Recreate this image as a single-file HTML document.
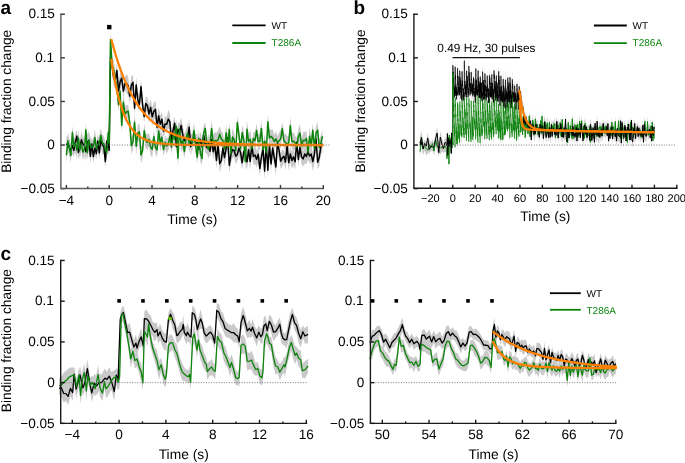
<!DOCTYPE html>
<html><head><meta charset="utf-8"><style>
html,body{margin:0;padding:0;background:#fff;overflow:hidden;}
svg{display:block;} #w{will-change:transform;}
</style></head><body><div id="w">
<svg width="685" height="463" viewBox="0 0 685 463" font-family='"Liberation Sans", sans-serif' text-rendering="geometricPrecision">
<rect width="685" height="463" fill="#fff"/>
<polygon points="66.38,136.32 67.88,136.25 69.38,138.54 70.88,143.41 72.37,136.63 73.87,144.06 75.37,133.85 76.87,129.9 78.37,145.3 79.87,140.57 81.37,131.2 82.87,136.43 84.36,139.12 85.86,142.13 87.36,133.2 88.86,130.93 90.36,149.36 91.86,136.57 93.36,149.68 94.86,141.46 96.35,147.41 97.85,133.15 99.35,146.42 100.85,132.61 102.35,135.71 103.85,139.01 105.35,154.85 106.84,132.57 108.34,137.75 109.2,142.34 110.48,50.76 112.09,56.92 113.7,69.68 115.3,72.54 116.91,62.93 118.51,82.07 120.12,72.63 121.72,71.38 123.33,84.51 124.94,77.07 126.54,74.17 128.15,76.25 129.75,89.19 131.36,75.64 132.97,75.44 134.57,100.27 136.18,77.22 137.78,90.34 139.39,98.48 140.99,79.4 142.6,97.03 144.21,110.11 145.81,96.51 147.42,97.86 149.02,104.82 150.63,98.63 152.23,107.82 153.84,102.44 155.45,100.83 157.05,118.17 158.66,107.4 160.26,115.52 161.87,112.07 163.47,124.37 165.08,115.25 166.69,117.65 168.29,109.82 169.9,113.68 171.5,133.22 173.11,121.02 174.71,116.62 176.32,138.79 177.93,122.85 179.53,123.06 181.14,117.39 182.74,125.66 184.35,133.67 185.95,129.68 187.56,129.74 189.17,118.9 190.77,137.19 192.38,132.83 193.98,129.46 195.59,134.38 197.2,133.6 198.8,142 200.41,131.19 202.01,139.76 203.62,126.95 205.22,135.26 206.83,141.44 208.44,133.04 210.04,145.2 211.65,130.06 213.25,143.92 214.86,137.58 216.46,151.74 218.07,136.25 219.68,155.08 221.28,154.16 222.89,139.93 224.49,149.45 226.1,139.24 227.7,131.61 229.31,157.62 230.92,146.33 232.52,141.76 234.13,144.16 235.73,147.94 237.34,147.55 238.94,141.53 240.55,143.32 242.16,155.86 243.76,143.88 245.37,145.15 246.97,153.22 248.58,141.62 250.18,152.45 251.79,137.86 253.4,148.31 255,146.02 256.61,150.91 258.21,145.83 259.82,160.97 261.43,148.88 263.03,142.02 264.64,162.41 266.24,135.91 267.85,162.44 269.45,136.56 271.06,156.08 272.67,140.79 274.27,148.55 275.88,159.56 277.48,133.97 279.09,141.48 280.69,153.56 282.3,149.27 283.91,150.06 285.51,154.55 287.12,136.15 288.72,154.48 290.33,146.02 291.93,152.04 293.54,148.42 295.15,153.53 296.75,134.7 298.36,152.72 299.96,140.24 301.57,149.98 303.17,151.23 304.78,144.42 306.39,149.23 307.99,144.15 309.6,148.6 311.2,146.02 312.81,152.14 314.41,144.99 316.02,131.63 317.63,155.2 319.23,148.37 320.84,138.93 322.44,135.08 322.44,152.07 320.84,154.58 319.23,166.74 317.63,169.27 316.02,146.47 314.41,163.4 312.81,170.96 311.2,162.28 309.6,163.4 307.99,159.48 306.39,163.89 304.78,163.6 303.17,166.45 301.57,164.23 299.96,154.49 298.36,166.21 296.75,149.84 295.15,169.81 293.54,165.35 291.93,168.88 290.33,162.12 288.72,170.73 287.12,154.36 285.51,169.48 283.91,162.51 282.3,166.45 280.69,168.89 279.09,159.17 277.48,152.07 275.88,174.42 274.27,166.53 272.67,155.36 271.06,171.8 269.45,154.03 267.85,177.9 266.24,150.77 264.64,179.81 263.03,156.99 261.43,164.98 259.82,176.01 258.21,162.52 256.61,167.85 255,163.95 253.4,164.85 251.79,153.32 250.18,170.29 248.58,157.69 246.97,170.36 245.37,162.59 243.76,159.26 242.16,169.45 240.55,161.66 238.94,155.1 237.34,161.3 235.73,164.29 234.13,156.89 232.52,157.81 230.92,162.94 229.31,172.99 227.7,144.1 226.1,157.95 224.49,165.55 222.89,156.06 221.28,166.96 219.68,172.39 218.07,152.11 216.46,168.98 214.86,152.64 213.25,159.39 211.65,148.95 210.04,157.52 208.44,150.33 206.83,154.1 205.22,152.83 203.62,143 202.01,153.43 200.41,148.07 198.8,156.55 197.2,151.64 195.59,151.41 193.98,144.57 192.38,148.06 190.77,156.03 189.17,135.6 187.56,146.85 185.95,147.48 184.35,147.84 182.74,143.47 181.14,133.61 179.53,142 177.93,135.7 176.32,154.59 174.71,129.91 173.11,139.76 171.5,147.73 169.9,130.05 168.29,128.44 166.69,131.02 165.08,132.74 163.47,137.75 161.87,126.38 160.26,132.86 158.66,124.36 157.05,136.3 155.45,117.98 153.84,119.96 152.23,125.81 150.63,116.15 149.02,123.17 147.42,113.31 145.81,110.37 144.21,122.78 142.6,113.42 140.99,93.81 139.39,110.97 137.78,108.93 136.18,92.89 134.57,116.01 132.97,89.1 131.36,94.62 129.75,103 128.15,95.03 126.54,93.21 124.94,90.07 123.33,97.66 121.72,84.84 120.12,90.94 118.51,99.8 116.91,77.9 115.3,88.49 113.7,86.28 112.09,72.73 110.48,64.94 109.2,158.22 108.34,151.81 106.84,149.45 105.35,168.34 103.85,154.59 102.35,153.92 100.85,146.04 99.35,159.48 97.85,148.87 96.35,159.85 94.86,154.54 93.36,163.48 91.86,151.53 90.36,163.28 88.86,149.53 87.36,151.6 85.86,161.28 84.36,151.73 82.87,151.81 81.37,148.43 79.87,154.96 78.37,159.7 76.87,142.34 75.37,149.36 73.87,156.74 72.37,154.2 70.88,157.13 69.38,157.12 67.88,149.79 66.38,153.76" fill="#c9c9c9" fill-opacity="1.0" stroke="none"/>
<polygon points="66.38,148.98 67.88,131.63 69.38,141.11 70.88,147.68 72.37,125.66 73.87,139.33 75.37,134.56 76.87,141.21 78.37,130.33 79.87,141.1 81.37,135.71 82.87,144.78 84.36,141.67 85.86,122.92 87.36,145.47 88.86,131.62 90.36,136.65 91.86,141.14 93.36,137.89 94.86,128.63 96.35,141.01 97.85,137.98 99.35,135 100.85,128.26 102.35,134.67 103.85,136.17 105.35,141.5 106.84,145.83 108.34,124.18 109.2,135.37 110.48,31.23 112.09,58.01 113.7,60.37 115.3,72.28 116.91,80.45 118.51,97.78 120.12,84.84 121.72,117.88 123.33,93.51 124.94,105.46 126.54,105.23 128.15,104.59 129.75,116.01 131.36,136.84 132.97,134.21 134.57,112.9 136.18,137.85 137.78,125.26 139.39,122.98 140.99,146.35 142.6,143.13 144.21,123.78 145.81,133.11 147.42,134.54 149.02,132.7 150.63,139.67 152.23,141 153.84,130.16 155.45,140.97 157.05,143.21 158.66,124.01 160.26,133.41 161.87,131.11 163.47,142.88 165.08,135.58 166.69,138.25 168.29,137.8 169.9,128.34 171.5,140.6 173.11,128.1 174.71,130.33 176.32,119.45 177.93,149.98 179.53,121.41 181.14,136.73 182.74,131.38 184.35,144.94 185.95,129.72 187.56,124 189.17,135.27 190.77,133.31 192.38,134.58 193.98,122.41 195.59,135.82 197.2,150.42 198.8,128.73 200.41,143.97 202.01,152.08 203.62,126.06 205.22,122.14 206.83,135.65 208.44,140.27 210.04,134.01 211.65,120.22 213.25,134.65 214.86,132.08 216.46,132.85 218.07,130.45 219.68,126.07 221.28,131.6 222.89,132.69 224.49,142.9 226.1,124.16 227.7,138.8 229.31,121.97 230.92,144.75 232.52,128.21 234.13,132.57 235.73,144.03 237.34,115.9 238.94,128.24 240.55,141.68 242.16,125.04 243.76,130.64 245.37,154.5 246.97,120.02 248.58,133.06 250.18,130.26 251.79,141.22 253.4,132.41 255,131.75 256.61,123.46 258.21,135.08 259.82,132.45 261.43,119.88 263.03,142.82 264.64,134.15 266.24,143.32 267.85,114.75 269.45,129.56 271.06,129.82 272.67,129.16 274.27,135.02 275.88,130.88 277.48,136.5 279.09,132.71 280.69,129.86 282.3,122.21 283.91,133.91 285.51,133.61 287.12,136.02 288.72,135.67 290.33,117.2 291.93,133.93 293.54,132.09 295.15,135.73 296.75,138.52 298.36,128.31 299.96,124.32 301.57,138.53 303.17,131.68 304.78,132.28 306.39,130.84 307.99,146.3 309.6,126.73 311.2,137.03 312.81,123.31 314.41,140.18 316.02,125.69 317.63,122.4 319.23,138.41 320.84,135.7 322.44,129.17 322.44,143.38 320.84,151.03 319.23,156.61 317.63,137.88 316.02,139.84 314.41,157.48 312.81,136.95 311.2,154.22 309.6,145.66 307.99,158.69 306.39,145.76 304.78,149.36 303.17,148.94 301.57,153.38 299.96,141.69 298.36,144.95 296.75,156.02 295.15,149.98 293.54,150.31 291.93,149.31 290.33,133.79 288.72,150.06 287.12,152.47 285.51,151.15 283.91,148.04 282.3,135.01 280.69,147.97 279.09,148.76 277.48,148.96 275.88,146.69 274.27,148.05 272.67,147.06 271.06,142.93 269.45,146.66 267.85,128.83 266.24,162.08 264.64,148.22 263.03,156.51 261.43,136.88 259.82,150.23 258.21,148.29 256.61,137.39 255,149.45 253.4,144.64 251.79,156.24 250.18,148.42 248.58,150.01 246.97,138.5 245.37,168.65 243.76,149.32 242.16,140.37 240.55,156 238.94,141.73 237.34,129.03 235.73,156.78 234.13,147.13 232.52,145.69 230.92,162.89 229.31,137.11 227.7,155.84 226.1,141.42 224.49,155.24 222.89,148.47 221.28,146.15 219.68,142.52 218.07,149.3 216.46,149.03 214.86,149.02 213.25,151.5 211.65,136.7 210.04,153.12 208.44,158.86 206.83,153.66 205.22,134.57 203.62,140.47 202.01,165.09 200.41,162.36 198.8,147.59 197.2,164.12 195.59,153.42 193.98,138.81 192.38,151.41 190.77,145.86 189.17,152.14 187.56,142.44 185.95,148.37 184.35,158.27 182.74,149.29 181.14,151.86 179.53,136.45 177.93,166.5 176.32,132.95 174.71,148.06 173.11,142.19 171.5,153.95 169.9,143.74 168.29,150.12 166.69,153.77 165.08,148.94 163.47,156.37 161.87,143.5 160.26,152.32 158.66,138.19 157.05,156.63 155.45,154.14 153.84,143.31 152.23,157.67 150.63,154.96 149.02,145.9 147.42,150.16 145.81,148.37 144.21,137.78 142.6,157.74 140.99,163.79 139.39,140.54 137.78,141.8 136.18,154.64 134.57,131.55 132.97,149.83 131.36,154.41 129.75,130.46 128.15,117.75 126.54,118.8 124.94,122.62 123.33,111.1 121.72,133.03 120.12,97.52 118.51,111.78 116.91,94.79 115.3,86.51 113.7,79.29 112.09,71.64 110.48,47.84 109.2,151.24 108.34,139.71 106.84,159.84 105.35,158.15 103.85,151.01 102.35,151.37 100.85,142.19 99.35,151.97 97.85,150.62 96.35,156.33 94.86,146.54 93.36,155.21 91.86,153.75 90.36,154.24 88.86,148.76 87.36,159.89 85.86,136.54 84.36,157.69 82.87,159.6 81.37,151.11 79.87,158.67 78.37,145.85 76.87,159.19 75.37,152.54 73.87,154.47 72.37,139.25 70.88,163.34 69.38,155.5 67.88,149.88 66.38,161.7" fill="#c9c9c9" fill-opacity="1.0" stroke="none"/>
<polyline points="66.38,145.04 67.88,143.02 69.38,147.83 70.88,150.27 72.37,145.42 73.87,150.4 75.37,141.61 76.87,136.12 78.37,152.5 79.87,147.76 81.37,139.82 82.87,144.12 84.36,145.43 85.86,151.7 87.36,142.4 88.86,140.23 90.36,156.32 91.86,144.05 93.36,156.58 94.86,148 96.35,153.63 97.85,141.01 99.35,152.95 100.85,139.33 102.35,144.81 103.85,146.8 105.35,161.6 106.84,141.01 108.34,144.78 109.2,150.28 110.48,57.85 112.09,64.83 113.7,77.98 115.3,80.52 116.91,70.41 118.51,90.94 120.12,81.78 121.72,78.11 123.33,91.08 124.94,83.57 126.54,83.69 128.15,85.64 129.75,96.1 131.36,85.13 132.97,82.27 134.57,108.14 136.18,85.06 137.78,99.64 139.39,104.73 140.99,86.61 142.6,105.23 144.21,116.44 145.81,103.44 147.42,105.59 149.02,114 150.63,107.39 152.23,116.82 153.84,111.2 155.45,109.4 157.05,127.23 158.66,115.88 160.26,124.19 161.87,119.22 163.47,131.06 165.08,123.99 166.69,124.34 168.29,119.13 169.9,121.87 171.5,140.48 173.11,130.39 174.71,123.26 176.32,146.69 177.93,129.27 179.53,132.53 181.14,125.5 182.74,134.57 184.35,140.75 185.95,138.58 187.56,138.3 189.17,127.25 190.77,146.61 192.38,140.44 193.98,137.01 195.59,142.9 197.2,142.62 198.8,149.28 200.41,139.63 202.01,146.59 203.62,134.98 205.22,144.05 206.83,147.77 208.44,141.69 210.04,151.36 211.65,139.5 213.25,151.66 214.86,145.11 216.46,160.36 218.07,144.18 219.68,163.73 221.28,160.56 222.89,147.99 224.49,157.5 226.1,148.6 227.7,137.86 229.31,165.31 230.92,154.63 232.52,149.79 234.13,150.53 235.73,156.12 237.34,154.42 238.94,148.31 240.55,152.49 242.16,162.66 243.76,151.57 245.37,153.87 246.97,161.79 248.58,149.66 250.18,161.37 251.79,145.59 253.4,156.58 255,154.98 256.61,159.38 258.21,154.17 259.82,168.49 261.43,156.93 263.03,149.51 264.64,171.11 266.24,143.34 267.85,170.17 269.45,145.3 271.06,163.94 272.67,148.08 274.27,157.54 275.88,166.99 277.48,143.02 279.09,150.33 280.69,161.22 282.3,157.86 283.91,156.29 285.51,162.02 287.12,145.25 288.72,162.6 290.33,154.07 291.93,160.46 293.54,156.89 295.15,161.67 296.75,142.27 298.36,159.46 299.96,147.36 301.57,157.1 303.17,158.84 304.78,154.01 306.39,156.56 307.99,151.82 309.6,156 311.2,154.15 312.81,161.55 314.41,154.2 316.02,139.05 317.63,162.23 319.23,157.56 320.84,146.76 322.44,143.57" fill="none" stroke="#000" stroke-width="1.5" stroke-linejoin="round" />
<polyline points="66.38,155.34 67.88,140.76 69.38,148.31 70.88,155.51 72.37,132.46 73.87,146.9 75.37,143.55 76.87,150.2 78.37,138.09 79.87,149.89 81.37,143.41 82.87,152.19 84.36,149.68 85.86,129.73 87.36,152.68 88.86,140.19 90.36,145.44 91.86,147.45 93.36,146.55 94.86,137.59 96.35,148.67 97.85,144.3 99.35,143.48 100.85,135.23 102.35,143.02 103.85,143.59 105.35,149.82 106.84,152.84 108.34,131.95 109.2,143.31 110.48,39.54 112.09,64.83 113.7,69.83 115.3,79.4 116.91,87.62 118.51,104.78 120.12,91.18 121.72,125.46 123.33,102.3 124.94,114.04 126.54,112.02 128.15,111.17 129.75,123.23 131.36,145.62 132.97,142.02 134.57,122.22 136.18,146.24 137.78,133.53 139.39,131.76 140.99,155.07 142.6,150.44 144.21,130.78 145.81,140.74 147.42,142.35 149.02,139.3 150.63,147.31 152.23,149.33 153.84,136.73 155.45,147.55 157.05,149.92 158.66,131.1 160.26,142.87 161.87,137.31 163.47,149.63 165.08,142.26 166.69,146.01 168.29,143.96 169.9,136.04 171.5,147.27 173.11,135.15 174.71,139.2 176.32,126.2 177.93,158.24 179.53,128.93 181.14,144.29 182.74,140.33 184.35,151.6 185.95,139.04 187.56,133.22 189.17,143.7 190.77,139.59 192.38,143 193.98,130.61 195.59,144.62 197.2,157.27 198.8,138.16 200.41,153.16 202.01,158.59 203.62,133.27 205.22,128.36 206.83,144.65 208.44,149.56 210.04,143.56 211.65,128.46 213.25,143.07 214.86,140.55 216.46,140.94 218.07,139.87 219.68,134.3 221.28,138.88 222.89,140.58 224.49,149.07 226.1,132.79 227.7,147.32 229.31,129.54 230.92,153.82 232.52,136.95 234.13,139.85 235.73,150.4 237.34,122.47 238.94,134.99 240.55,148.84 242.16,132.71 243.76,139.98 245.37,161.58 246.97,129.26 248.58,141.53 250.18,139.34 251.79,148.73 253.4,138.52 255,140.6 256.61,130.43 258.21,141.69 259.82,141.34 261.43,128.38 263.03,149.67 264.64,141.19 266.24,152.7 267.85,121.79 269.45,138.11 271.06,136.38 272.67,138.11 274.27,141.53 275.88,138.79 277.48,142.73 279.09,140.74 280.69,138.92 282.3,128.61 283.91,140.97 285.51,142.38 287.12,144.25 288.72,142.87 290.33,125.49 291.93,141.62 293.54,141.2 295.15,142.85 296.75,147.27 298.36,136.63 299.96,133 301.57,145.96 303.17,140.31 304.78,140.82 306.39,138.3 307.99,152.5 309.6,136.19 311.2,145.62 312.81,130.13 314.41,148.83 316.02,132.77 317.63,130.14 319.23,147.51 320.84,143.36 322.44,136.28" fill="none" stroke="#0c840c" stroke-width="1.5" stroke-linejoin="round" />
<polyline points="111.23,38.93 112.3,42.99 113.37,46.9 114.43,50.66 115.5,54.27 116.56,57.75 117.63,61.09 118.69,64.3 119.76,67.39 120.82,70.37 121.89,73.23 122.96,75.98 124.02,78.62 125.09,81.16 126.15,83.61 127.22,85.96 128.28,88.22 129.35,90.4 130.42,92.49 131.48,94.5 132.55,96.44 133.61,98.3 134.68,100.09 135.74,101.81 136.81,103.47 137.88,105.06 138.94,106.59 140.01,108.06 141.07,109.48 142.14,110.84 143.2,112.15 144.27,113.41 145.34,114.62 146.4,115.79 147.47,116.91 148.53,117.98 149.6,119.02 150.66,120.02 151.73,120.98 152.79,121.9 153.86,122.78 154.93,123.64 155.99,124.46 157.06,125.24 158.12,126 159.19,126.73 160.25,127.43 161.32,128.11 162.39,128.76 163.45,129.38 164.52,129.98 165.58,130.56 166.65,131.11 167.71,131.65 168.78,132.16 169.85,132.65 170.91,133.13 171.98,133.58 173.04,134.02 174.11,134.44 175.17,134.85 176.24,135.24 177.3,135.62 178.37,135.98 179.44,136.33 180.5,136.66 181.57,136.98 182.63,137.29 183.7,137.59 184.76,137.87 185.83,138.15 186.9,138.41 187.96,138.67 189.03,138.91 190.09,139.15 191.16,139.37 192.22,139.59 193.29,139.8 194.36,140 195.42,140.19 196.49,140.38 197.55,140.56 198.62,140.73 199.68,140.89 200.75,141.05 201.81,141.21 202.88,141.35 203.95,141.5 205.01,141.63 206.08,141.76 207.14,141.89 208.21,142.01 209.27,142.13 210.34,142.24 211.41,142.35 212.47,142.45 213.54,142.55 214.6,142.64 215.67,142.74 216.73,142.82 217.8,142.91 218.87,142.99 219.93,143.07 221,143.15 222.06,143.22 223.13,143.29 224.19,143.36 225.26,143.42 226.33,143.48 227.39,143.54 228.46,143.6 229.52,143.66 230.59,143.71 231.65,143.76 232.72,143.81 233.78,143.86 234.85,143.9 235.92,143.95 236.98,143.99 238.05,144.03 239.11,144.07 240.18,144.11 241.24,144.14 242.31,144.18 243.38,144.21 244.44,144.24 245.51,144.27 246.57,144.3 247.64,144.33 248.7,144.36 249.77,144.39 250.84,144.41 251.9,144.44 252.97,144.46 254.03,144.48 255.1,144.5 256.16,144.53 257.23,144.55 258.29,144.56 259.36,144.58 260.43,144.6 261.49,144.62 262.56,144.63 263.62,144.65 264.69,144.67 265.75,144.68 266.82,144.69 267.89,144.71 268.95,144.72 270.02,144.73 271.08,144.75 272.15,144.76 273.21,144.77 274.28,144.78 275.35,144.79 276.41,144.8 277.48,144.81 278.54,144.82 279.61,144.83 280.67,144.84 281.74,144.84 282.8,144.85 283.87,144.86 284.94,144.87 286,144.87 287.07,144.88 288.13,144.89 289.2,144.89 290.26,144.9 291.33,144.91 292.4,144.91 293.46,144.92 294.53,144.92 295.59,144.93 296.66,144.93 297.72,144.94 298.79,144.94 299.86,144.94 300.92,144.95 301.99,144.95 303.05,144.96 304.12,144.96 305.18,144.96 306.25,144.97 307.32,144.97 308.38,144.97 309.45,144.98 310.51,144.98 311.58,144.98 312.64,144.98 313.71,144.99 314.77,144.99 315.84,144.99 316.91,144.99 317.97,145 319.04,145 320.1,145 321.17,145 322.23,145 323.3,145.01" fill="none" stroke="#ff8000" stroke-width="2.25" stroke-linejoin="round" />
<polyline points="111.23,58.72 112.3,65.88 113.37,72.45 114.43,78.47 115.5,83.99 116.56,89.05 117.63,93.69 118.69,97.95 119.76,101.86 120.82,105.44 121.89,108.72 122.96,111.74 124.02,114.5 125.09,117.03 126.15,119.36 127.22,121.49 128.28,123.44 129.35,125.23 130.42,126.88 131.48,128.38 132.55,129.76 133.61,131.03 134.68,132.19 135.74,133.26 136.81,134.24 137.88,135.13 138.94,135.96 140.01,136.71 141.07,137.4 142.14,138.04 143.2,138.62 144.27,139.15 145.34,139.64 146.4,140.09 147.47,140.5 148.53,140.88 149.6,141.22 150.66,141.54 151.73,141.83 152.79,142.1 153.86,142.34 154.93,142.57 155.99,142.77 157.06,142.96 158.12,143.14 159.19,143.29 160.25,143.44 161.32,143.57 162.39,143.7 163.45,143.81 164.52,143.91 165.58,144.01 166.65,144.09 167.71,144.17 168.78,144.24 169.85,144.31 170.91,144.37 171.98,144.43 173.04,144.48 174.11,144.53 175.17,144.57 176.24,144.61 177.3,144.65 178.37,144.68 179.44,144.71 180.5,144.74 181.57,144.76 182.63,144.79 183.7,144.81 184.76,144.83 185.83,144.85 186.9,144.87 187.96,144.88 189.03,144.89 190.09,144.91 191.16,144.92 192.22,144.93 193.29,144.94 194.36,144.95 195.42,144.96 196.49,144.97 197.55,144.97 198.62,144.98 199.68,144.98 200.75,144.99 201.81,144.99 202.88,145 203.95,145 205.01,145.01 206.08,145.01 207.14,145.01 208.21,145.02 209.27,145.02 210.34,145.02 211.41,145.02 212.47,145.03 213.54,145.03 214.6,145.03 215.67,145.03 216.73,145.03 217.8,145.03 218.87,145.04 219.93,145.04 221,145.04 222.06,145.04 223.13,145.04 224.19,145.04 225.26,145.04 226.33,145.04 227.39,145.04 228.46,145.04 229.52,145.04 230.59,145.04 231.65,145.05 232.72,145.05 233.78,145.05 234.85,145.05 235.92,145.05 236.98,145.05 238.05,145.05 239.11,145.05 240.18,145.05 241.24,145.05 242.31,145.05 243.38,145.05 244.44,145.05 245.51,145.05 246.57,145.05 247.64,145.05 248.7,145.05 249.77,145.05 250.84,145.05 251.9,145.05 252.97,145.05 254.03,145.05 255.1,145.05 256.16,145.05 257.23,145.05 258.29,145.05 259.36,145.05 260.43,145.05 261.49,145.05 262.56,145.05 263.62,145.05 264.69,145.05 265.75,145.05 266.82,145.05 267.89,145.05 268.95,145.05 270.02,145.05 271.08,145.05 272.15,145.05 273.21,145.05 274.28,145.05 275.35,145.05 276.41,145.05 277.48,145.05 278.54,145.05 279.61,145.05 280.67,145.05 281.74,145.05 282.8,145.05 283.87,145.05 284.94,145.05 286,145.05 287.07,145.05 288.13,145.05 289.2,145.05 290.26,145.05 291.33,145.05 292.4,145.05 293.46,145.05 294.53,145.05 295.59,145.05 296.66,145.05 297.72,145.05 298.79,145.05 299.86,145.05 300.92,145.05 301.99,145.05 303.05,145.05 304.12,145.05 305.18,145.05 306.25,145.05 307.32,145.05 308.38,145.05 309.45,145.05 310.51,145.05 311.58,145.05 312.64,145.05 313.71,145.05 314.77,145.05 315.84,145.05 316.91,145.05 317.97,145.05 319.04,145.05 320.1,145.05 321.17,145.05 322.23,145.05 323.3,145.05" fill="none" stroke="#ff8000" stroke-width="2.25" stroke-linejoin="round" />
<line x1="60.7" y1="145.05" x2="331" y2="145.05" stroke="#6a6a6a" stroke-width="0.9" stroke-dasharray="1 1.55"/>
<line x1="60.9" y1="13.55" x2="60.9" y2="188.5" stroke="#5c5c5c" stroke-width="1.4" />
<line x1="60.9" y1="14.25" x2="64.9" y2="14.25" stroke="#383838" stroke-width="1.4" />
<text x="54.9" y="18.45" font-size="13.6" text-anchor="end" font-weight="normal" fill="#000" >0.15</text>
<line x1="60.9" y1="57.85" x2="64.9" y2="57.85" stroke="#383838" stroke-width="1.4" />
<text x="54.1" y="62.05" font-size="13.6" text-anchor="end" font-weight="normal" fill="#000" >0.1</text>
<line x1="60.9" y1="101.45" x2="64.9" y2="101.45" stroke="#383838" stroke-width="1.4" />
<text x="54.9" y="105.65" font-size="13.6" text-anchor="end" font-weight="normal" fill="#000" >0.05</text>
<line x1="60.9" y1="145.05" x2="64.9" y2="145.05" stroke="#383838" stroke-width="1.4" />
<text x="54.9" y="149.25" font-size="13.6" text-anchor="end" font-weight="normal" fill="#000" >0</text>
<line x1="60.9" y1="188.65" x2="64.9" y2="188.65" stroke="#383838" stroke-width="1.4" />
<text x="54.9" y="192.85" font-size="13.6" text-anchor="end" font-weight="normal" fill="#000" >−0.05</text>
<line x1="60.2" y1="188.5" x2="324.1" y2="188.5" stroke="#5c5c5c" stroke-width="1.4" />
<line x1="66.38" y1="188.5" x2="66.38" y2="184.9" stroke="#383838" stroke-width="1.4" />
<text x="66.38" y="204.9" font-size="13.6" text-anchor="middle" font-weight="normal" fill="#000" >−4</text>
<line x1="109.2" y1="188.5" x2="109.2" y2="184.9" stroke="#383838" stroke-width="1.4" />
<text x="109.2" y="204.9" font-size="13.6" text-anchor="middle" font-weight="normal" fill="#000" >0</text>
<line x1="152.02" y1="188.5" x2="152.02" y2="184.9" stroke="#383838" stroke-width="1.4" />
<text x="152.02" y="204.9" font-size="13.6" text-anchor="middle" font-weight="normal" fill="#000" >4</text>
<line x1="194.84" y1="188.5" x2="194.84" y2="184.9" stroke="#383838" stroke-width="1.4" />
<text x="194.84" y="204.9" font-size="13.6" text-anchor="middle" font-weight="normal" fill="#000" >8</text>
<line x1="237.66" y1="188.5" x2="237.66" y2="184.9" stroke="#383838" stroke-width="1.4" />
<text x="237.66" y="204.9" font-size="13.6" text-anchor="middle" font-weight="normal" fill="#000" >12</text>
<line x1="280.48" y1="188.5" x2="280.48" y2="184.9" stroke="#383838" stroke-width="1.4" />
<text x="280.48" y="204.9" font-size="13.6" text-anchor="middle" font-weight="normal" fill="#000" >16</text>
<line x1="323.3" y1="188.5" x2="323.3" y2="184.9" stroke="#383838" stroke-width="1.4" />
<text x="323.3" y="204.9" font-size="13.6" text-anchor="middle" font-weight="normal" fill="#000" >20</text>
<line x1="87.79" y1="188.5" x2="87.79" y2="186.5" stroke="#383838" stroke-width="1.4" />
<line x1="130.61" y1="188.5" x2="130.61" y2="186.5" stroke="#383838" stroke-width="1.4" />
<line x1="173.43" y1="188.5" x2="173.43" y2="186.5" stroke="#383838" stroke-width="1.4" />
<line x1="216.25" y1="188.5" x2="216.25" y2="186.5" stroke="#383838" stroke-width="1.4" />
<line x1="259.07" y1="188.5" x2="259.07" y2="186.5" stroke="#383838" stroke-width="1.4" />
<line x1="301.89" y1="188.5" x2="301.89" y2="186.5" stroke="#383838" stroke-width="1.4" />
<rect x="107.05" y="24.9" width="4.4" height="4.4" fill="#000"/>
<text transform="translate(10.7,101.3) rotate(-90)" font-size="13.7" text-anchor="middle">Binding fraction change</text>
<text x="192.2" y="223.9" font-size="13.8" text-anchor="middle" font-weight="normal" fill="#000" >Time (s)</text>
<line x1="232.3" y1="25.4" x2="265.6" y2="25.4" stroke="#000" stroke-width="1.8" />
<line x1="232.3" y1="43" x2="265.6" y2="43" stroke="#0c840c" stroke-width="1.8" />
<text x="271.6" y="28.5" font-size="10" text-anchor="start" font-weight="normal" fill="#000" >WT</text>
<text x="271.6" y="46.1" font-size="10" text-anchor="start" font-weight="normal" fill="#0c840c" >T286A</text>
<text x="0.4" y="14.3" font-size="19" text-anchor="start" font-weight="bold" fill="#000" >a</text>
<polygon points="419.93,146.76 421.5,133.21 423.06,141.81 424.63,142.38 426.2,141.53 427.77,146.76 429.34,138.89 430.91,143.09 432.47,139.1 434.04,145.88 435.61,133.94 437.18,142.05 438.75,141.07 440.32,140.94 441.88,143.27 443.45,143.97 445.02,140.42 446.59,143.55 446.98,154.05 447.37,141.16 447.77,140.1 448.16,137.64 448.55,130.7 448.94,157.79 449.33,130.32 449.73,138.37 450.12,140.28 450.51,142.54 450.9,130.99 451.29,148.15 451.69,137.26 452.08,141.84 452.47,129.6 452.75,136.38 452.84,65.97 452.97,66.02 453.11,80.06 453.24,85.02 453.38,92.14 453.51,93.82 453.65,102.46 453.78,96.98 453.92,109.95 454.05,107.03 454.18,121.35 454.32,115.41 454.45,128.45 454.59,120.01 454.72,125.23 454.86,123.19 455.04,140.36 455.12,93.59 455.26,90 455.39,100.47 455.53,97.73 455.66,107.33 455.8,106.2 455.93,117.46 456.07,117.18 456.2,123.86 456.33,118.71 456.47,133.29 456.6,121.4 456.74,134.4 456.87,126.2 457.01,131.61 457.14,123.4 457.32,137.29 457.41,100.09 457.54,95.87 457.68,108.6 457.81,98.13 457.95,115.06 458.08,110.23 458.22,116.23 458.35,114.73 458.49,119.36 458.62,117.44 458.75,129.66 458.89,115.04 459.02,130.9 459.16,122.48 459.29,126.88 459.43,129.31 459.61,135.52 459.7,100.2 459.83,94.76 459.96,103.65 460.1,101.22 460.23,109.79 460.37,104.43 460.5,112.33 460.64,109.82 460.77,121.3 460.91,114.96 461.04,126.37 461.17,119.63 461.31,128.25 461.44,122.08 461.58,126.28 461.71,123.45 461.89,130.78 461.98,90.61 462.11,87.82 462.25,98.88 462.38,98.18 462.52,106.6 462.65,105.56 462.79,115.31 462.92,108.51 463.06,118.47 463.19,113.5 463.32,121.92 463.46,118.87 463.59,127.47 463.73,118.83 463.86,120.3 464,120.25 464.18,129.01 464.27,89.59 464.4,88.54 464.53,100.62 464.67,96.63 464.8,107.12 464.94,101.35 465.07,110.85 465.21,105.36 465.34,119.47 465.48,114.81 465.61,119.72 465.74,112.76 465.88,127.81 466.01,117.24 466.15,126.11 466.28,121.01 466.46,133.19 466.55,93.41 466.69,84.36 466.82,95.37 466.95,93.97 467.09,106.78 467.22,104.37 467.36,114.9 467.49,111.27 467.63,118.51 467.76,114.24 467.9,121.52 468.03,120.34 468.16,123.67 468.3,122.04 468.43,127.27 468.57,123.05 468.75,132.61 468.84,97.96 468.97,90.8 469.1,98.59 469.24,97.61 469.37,106.98 469.51,109.12 469.64,113.97 469.78,114.2 469.91,120.28 470.05,113.67 470.18,122.09 470.31,117.52 470.45,125.79 470.58,120.5 470.72,131.01 470.85,121.43 471.03,133.82 471.12,93.41 471.26,91.84 471.39,103.2 471.52,101.71 471.66,108.49 471.79,108.87 471.93,115.42 472.06,113.99 472.2,121.54 472.33,107.98 472.47,123.08 472.6,115.03 472.73,130.84 472.87,121.53 473,128.34 473.14,123.45 473.32,127.78 473.41,92.7 473.54,91.6 473.68,98.28 473.81,97.52 473.94,104.08 474.08,103.39 474.21,112.72 474.35,109.36 474.48,118.78 474.62,112.7 474.75,115.75 474.89,114.49 475.02,119.06 475.15,118.02 475.29,123.05 475.42,121.23 475.6,130.5 475.69,87.9 475.83,90.79 475.96,98.59 476.09,98.5 476.23,107.47 476.36,104.85 476.5,116.91 476.63,102.63 476.77,122.28 476.9,115.08 477.04,118.08 477.17,117.84 477.3,128.12 477.44,120.14 477.57,125.03 477.71,120.14 477.89,134.89 477.98,87.17 478.11,89.61 478.25,97.18 478.38,95.36 478.51,107.78 478.65,104.72 478.78,113.91 478.92,110.23 479.05,120.07 479.19,113.67 479.32,122.58 479.46,118.72 479.59,127.61 479.72,121.27 479.86,129.08 479.99,124.75 480.17,133.88 480.26,88.07 480.4,92.08 480.53,99.87 480.67,99.67 480.8,105.03 480.93,103.21 481.07,114.48 481.2,109.7 481.34,127.46 481.47,117.52 481.61,123.36 481.74,122.31 481.88,123.89 482.01,122.62 482.14,127.41 482.28,125.98 482.46,126.45 482.55,90.25 482.68,93.44 482.82,100.45 482.95,97.05 483.09,108.66 483.22,102.86 483.35,110.35 483.49,106.88 483.62,114.23 483.76,115.4 483.89,116.87 484.03,111.99 484.16,118.65 484.29,114.31 484.43,124.45 484.56,119.62 484.74,130.89 484.83,91.25 484.97,85.81 485.1,101.52 485.24,103.53 485.37,110.04 485.5,101.31 485.64,115.44 485.77,111.34 485.91,117.25 486.04,115.3 486.18,127.11 486.31,112.47 486.45,122.28 486.58,119.84 486.71,122.98 486.85,124.71 487.03,132.03 487.12,91.76 487.25,93.89 487.39,103.83 487.52,97.48 487.66,105.55 487.79,103.79 487.92,113.79 488.06,106.8 488.19,114.21 488.33,112.39 488.46,119.03 488.6,118.93 488.73,125.02 488.87,120.94 489,126.11 489.13,118.09 489.31,130.64 489.4,91.06 489.54,94.18 489.67,101.21 489.81,98.06 489.94,111.86 490.08,102.42 490.21,112.75 490.34,108.51 490.48,118.99 490.61,115.28 490.75,122.46 490.88,118.23 491.02,124.25 491.15,118.94 491.28,128.23 491.42,120.4 491.6,132.88 491.69,95.46 491.82,93.43 491.96,101.31 492.09,101.17 492.23,107.56 492.36,107.59 492.49,113.72 492.63,112.7 492.76,121.14 492.9,115.95 493.03,121.86 493.17,113.23 493.3,126.23 493.44,121.31 493.57,128.29 493.7,116.38 493.88,128.15 493.97,88.16 494.11,89.82 494.24,98.14 494.38,90.62 494.51,104.53 494.65,105.78 494.78,106.37 494.91,103.04 495.05,114.18 495.18,110.97 495.32,119.07 495.45,107.73 495.59,118.81 495.72,113.02 495.86,120.37 495.99,113.02 496.17,126.33 496.26,86.53 496.39,84.59 496.53,95.49 496.66,95.87 496.8,102.79 496.93,101.57 497.07,111.24 497.2,105.28 497.33,115.27 497.47,112.62 497.6,123.01 497.74,110.13 497.87,117.65 498.01,108.24 498.14,123.34 498.27,118.67 498.45,132.33 498.54,98.15 498.68,96.59 498.81,103.67 498.95,103 499.08,109.24 499.22,103.91 499.35,125.98 499.48,111.59 499.62,119.4 499.75,114.87 499.89,121.98 500.02,108.66 500.16,129.21 500.29,117.17 500.43,131.07 500.56,119.3 500.74,130.98 500.83,97.97 500.96,93.73 501.1,106.09 501.23,102.73 501.37,114.9 501.5,112.9 501.64,115.18 501.77,112.49 501.9,122.28 502.04,116.09 502.17,132.27 502.31,120.55 502.44,127.08 502.58,122 502.71,128.53 502.85,126.01 503.02,130.28 503.11,90.92 503.25,89.34 503.38,105.56 503.52,97.74 503.65,108.65 503.79,103.08 503.92,113.96 504.06,101.4 504.19,119.58 504.32,117.84 504.46,125.91 504.59,120.35 504.73,127.44 504.86,114.59 505,126.75 505.13,120.95 505.31,127.16 505.4,95.78 505.53,94.48 505.67,104.94 505.8,100.94 505.94,106.02 506.07,96.25 506.21,109.89 506.34,107.78 506.47,117.69 506.61,113.26 506.74,117.47 506.88,113.84 507.01,121.9 507.15,115.24 507.28,122.5 507.42,109.13 507.59,124.21 507.68,94 507.82,89.17 507.95,98.14 508.09,98.37 508.22,104.41 508.36,94.16 508.49,108.94 508.63,107.99 508.76,110.45 508.89,107.44 509.03,119.35 509.16,111.75 509.3,119.78 509.43,115.08 509.57,116.96 509.7,115.85 509.88,131.65 509.97,90.31 510.1,80.14 510.24,102.72 510.37,92.32 510.51,107.61 510.64,104.58 510.78,111.19 510.91,111.47 511.05,116.54 511.18,115.71 511.31,118.7 511.45,118.98 511.58,122.74 511.72,119.09 511.85,126.2 511.99,115.85 512.17,130.23 512.26,91.12 512.39,82.64 512.52,100.81 512.66,101.07 512.79,106.54 512.93,96.94 513.06,112.48 513.2,103.91 513.33,114.71 513.46,111.53 513.6,123.42 513.73,111.93 513.87,123.61 514,117.71 514.14,122.4 514.27,113.53 514.45,131.67 514.54,95.13 514.67,97.43 514.81,105.97 514.94,98.57 515.08,111.15 515.21,105.19 515.35,116.68 515.48,112.85 515.62,118.47 515.75,113.54 515.88,122.03 516.02,118.53 516.15,124.53 516.29,119.37 516.42,133.96 516.56,118.96 516.74,130.19 516.83,91.58 516.96,89.79 517.09,99.36 517.23,101.38 517.36,112.84 517.5,106.64 517.63,112.43 517.77,110.74 517.9,119.55 518.04,110.87 518.17,122.56 518.3,115.57 518.44,128.27 518.57,121 518.71,123.12 518.84,123.9 519.02,130.45 519.11,97.55 519.25,95.31 519.38,105.64 519.51,99.09 519.65,114.42 519.78,105.72 519.92,112.16 520.05,113.83 520.19,117.11 520.32,111.1 520.45,122.87 520.59,120.46 520.72,121.65 520.86,116.02 520.99,124.07 521.13,114.15 520.52,102.62 521.19,116.85 521.87,112.62 522.54,129.18 523.21,110.7 523.88,125.23 524.55,115.39 525.23,132.04 525.9,114.71 526.57,123.59 527.24,118.24 527.92,128.99 528.59,123.53 529.26,109.38 529.93,130.17 530.6,123.73 531.28,122.5 531.95,126.29 532.62,113.63 533.29,117.39 533.96,129.11 534.64,128.68 535.31,113.44 535.98,120.66 536.65,120.71 537.33,119.55 538,129.59 538.67,121.43 539.34,127.69 540.01,127.39 540.69,116.02 541.36,127.93 542.03,109.17 542.7,128.49 543.37,125.61 544.05,118.8 544.72,115.75 545.39,125.37 546.06,129.31 546.73,118.81 547.41,116.68 548.08,128.86 548.75,126.67 549.42,117.22 550.1,125.07 550.77,129.44 551.44,123.22 552.11,125.7 552.78,120.14 553.46,122.31 554.13,117.8 554.8,122.06 555.47,131.59 556.14,116.87 556.82,119.5 557.49,124.12 558.16,119.33 558.83,129.28 559.51,126.31 560.18,117.86 560.85,130.26 561.52,132.24 562.19,112.78 562.87,130.05 563.54,122.81 564.21,128.85 564.88,129.03 565.55,127.56 566.23,124.81 566.9,123.22 567.57,137.61 568.24,117.88 568.91,132.04 569.59,128.89 570.26,120.47 570.93,128.14 571.6,131.67 572.28,113.03 572.95,133.48 573.62,122.04 574.29,124.09 574.96,118.67 575.64,130.55 576.31,120.04 576.98,131.07 577.65,117.14 578.32,131.31 579,125.58 579.67,114.55 580.34,129.19 581.01,126.77 581.69,114.21 582.36,127.45 583.03,131.38 583.7,121.49 584.37,134.07 585.05,117.39 585.72,123.16 586.39,130.77 587.06,126.94 587.73,124.67 588.41,124.96 589.08,131 589.75,120.67 590.42,137.06 591.09,123.75 591.77,126.94 592.44,127.43 593.11,123.83 593.78,132.89 594.46,120.64 595.13,128.76 595.8,128.92 596.47,130.4 597.14,127.24 597.82,122.31 598.49,130.25 599.16,123.13 599.83,121.92 600.5,124.45 601.18,119.6 601.85,131.35 602.52,131.47 603.19,118.25 603.86,126.08 604.54,120.16 605.21,128.3 605.88,120.72 606.55,124.94 607.23,125.12 607.9,124.75 608.57,124 609.24,126.82 609.91,125.72 610.59,122.14 611.26,131.71 611.93,116.36 612.6,129.04 613.27,121.68 613.95,128.03 614.62,126.02 615.29,116.41 615.96,130.87 616.64,130.91 617.31,126.4 617.98,126.91 618.65,115.7 619.32,130.85 620,121.08 620.67,132.18 621.34,123.4 622.01,123.64 622.68,119.75 623.36,132.74 624.03,121.62 624.7,124.91 625.37,131.19 626.04,125.17 626.72,127.8 627.39,136.64 628.06,117.3 628.73,125.31 629.41,130.37 630.08,132.33 630.75,116.97 631.42,129.13 632.09,122.43 632.77,122.42 633.44,131.85 634.11,120.29 634.78,128.07 635.45,127.03 636.13,126.46 636.8,125.75 637.47,121.95 638.14,128.12 638.82,128.19 639.49,127.76 640.16,124.65 640.83,130.63 641.5,127.61 642.18,125.5 642.85,128.83 643.52,126.25 644.19,128.02 644.86,115.98 645.54,124.89 646.21,126.69 646.88,127.76 647.55,115.29 648.22,130.6 648.9,128.55 649.57,124.27 650.24,126.01 650.91,119.5 651.59,130.38 652.26,117.12 652.93,134.37 653.6,121.7 654.27,133.9 654.27,143.19 653.6,132.31 652.93,147.61 652.26,127.1 651.59,140.32 650.91,132.71 650.24,136.76 649.57,136.84 648.9,138.05 648.22,140.12 647.55,127.8 646.88,139.03 646.21,139.04 645.54,135.31 644.86,126.44 644.19,141.6 643.52,136.7 642.85,140.61 642.18,137.05 641.5,137.55 640.83,143.62 640.16,135.06 639.49,138.39 638.82,137.96 638.14,139.62 637.47,131.47 636.8,137.99 636.13,138.16 635.45,136.59 634.78,141.79 634.11,133.69 633.44,143.24 632.77,132.44 632.09,132.95 631.42,138.66 630.75,126.99 630.08,142.54 629.41,140.08 628.73,135.98 628.06,130.79 627.39,148.38 626.72,138.47 626.04,134.42 625.37,143.71 624.7,138.57 624.03,133.34 623.36,145.46 622.68,129.59 622.01,135.14 621.34,132.58 620.67,145.13 620,134.49 619.32,140.1 618.65,125.87 617.98,136.64 617.31,138.5 616.64,143.55 615.96,144.4 615.29,126.54 614.62,139.45 613.95,140.55 613.27,131.85 612.6,142.9 611.93,128.19 611.26,140.85 610.59,132.7 609.91,136.46 609.24,135.98 608.57,137.65 607.9,136.79 607.23,134.91 606.55,135.33 605.88,131.07 605.21,139.63 604.54,133.56 603.86,138.5 603.19,130.4 602.52,140.75 601.85,141.3 601.18,132.94 600.5,133.25 599.83,131.17 599.16,135.07 598.49,143.5 597.82,132.06 597.14,141.11 596.47,142.78 595.8,139.39 595.13,138.34 594.46,131.23 593.78,143 593.11,134.8 592.44,136.17 591.77,137.77 591.09,134.27 590.42,147.63 589.75,132.29 589.08,141.04 588.41,138.24 587.73,133.47 587.06,139.13 586.39,142.43 585.72,132.61 585.05,129.13 584.37,142.84 583.7,130.33 583.03,140.37 582.36,141.1 581.69,127.06 581.01,135.82 580.34,138.2 579.67,127.92 579,136.79 578.32,143.01 577.65,131.02 576.98,142.49 576.31,130.4 575.64,141.95 574.96,130.66 574.29,137.04 573.62,133.82 572.95,144.65 572.28,124.53 571.6,144.6 570.93,137.32 570.26,130.22 569.59,137.99 568.91,144.28 568.24,126.68 567.57,147.69 566.9,133.3 566.23,135.25 565.55,139.38 564.88,139.18 564.21,141.25 563.54,134.98 562.87,139.26 562.19,125.97 561.52,141.75 560.85,141.81 560.18,126.92 559.51,138.2 558.83,138.17 558.16,130.45 557.49,133.04 556.82,131.28 556.14,130.06 555.47,144.02 554.8,133.61 554.13,129.12 553.46,135.35 552.78,131.15 552.11,137.27 551.44,132.98 550.77,139.02 550.1,135.22 549.42,126.9 548.75,135.79 548.08,138.93 547.41,128.82 546.73,129.42 546.06,141.48 545.39,134.71 544.72,127.35 544.05,127.67 543.37,137.69 542.7,137.45 542.03,122.83 541.36,139.47 540.69,125.13 540.01,136.88 539.34,141.45 538.67,132.99 538,140.23 537.33,129.37 536.65,132.61 535.98,130.14 535.31,124.2 534.64,141.11 533.96,141.32 533.29,127.38 532.62,126.67 531.95,138.4 531.28,133.11 530.6,135.4 529.93,143.33 529.26,122.21 528.59,134.05 527.92,138.86 527.24,128.25 526.57,136.63 525.9,125.22 525.23,143.28 524.55,126.34 523.88,135.57 523.21,122.06 522.54,140.36 521.87,124.86 521.19,127.82 520.52,115.02 521.13,128.23 520.99,139.11 520.86,131 520.72,137.45 520.59,133.24 520.45,141.74 520.32,127.4 520.19,130.37 520.05,126.06 519.92,129.8 519.78,124.68 519.65,133.04 519.51,117.03 519.38,120.92 519.25,110.37 519.11,114.1 519.02,142.81 518.84,136.8 518.71,141.02 518.57,137.47 518.44,142.07 518.3,128.25 518.17,135.17 518.04,126.45 517.9,137.77 517.77,124.97 517.63,129.29 517.5,124.13 517.36,125.76 517.23,117.63 517.09,118.11 516.96,107.88 516.83,106.54 516.74,148.49 516.56,133.41 516.42,147.44 516.29,136.64 516.15,140.17 516.02,135.49 515.88,137.65 515.75,129.67 515.62,135.15 515.48,130.92 515.35,132.65 515.21,123.75 515.08,126.59 514.94,113.11 514.81,120.4 514.67,114.03 514.54,111.91 514.45,145.33 514.27,127.39 514.14,138.57 514,135.95 513.87,135.95 513.73,128.95 513.6,137.35 513.46,125.12 513.33,129.04 513.2,120.86 513.06,125.2 512.93,115.65 512.79,118.77 512.66,113.67 512.52,113.7 512.39,101.65 512.26,109.1 512.17,143.56 511.99,131.07 511.85,139.9 511.72,133.23 511.58,137.3 511.45,134.13 511.31,136.73 511.18,130.79 511.05,135.11 510.91,126.95 510.78,125.99 510.64,123.32 510.51,124.81 510.37,110.03 510.24,115.33 510.1,96.57 509.97,105.82 509.88,144.49 509.7,133.93 509.57,134.13 509.43,131.12 509.3,138.26 509.16,128.59 509.03,138.4 508.89,124.48 508.76,128.72 508.63,123.27 508.49,125.73 508.36,111.98 508.22,118.52 508.09,113.69 507.95,114.96 507.82,107.2 507.68,109.21 507.59,138.24 507.42,125.04 507.28,136.05 507.15,132.62 507.01,135.58 506.88,126.61 506.74,134.85 506.61,129.32 506.47,134.52 506.34,125.01 506.21,127.05 506.07,113.15 505.94,122.81 505.8,113.92 505.67,117.68 505.53,111.61 505.4,110.15 505.31,141.47 505.13,134.01 505,139.74 504.86,127.29 504.73,143.26 504.59,133.43 504.46,142.2 504.32,132.43 504.19,138.14 504.06,120.36 503.92,132.3 503.79,119.36 503.65,124.52 503.52,111.28 503.38,119.54 503.25,107.24 503.11,110 503.02,148.66 502.85,139.15 502.71,143.94 502.58,140.94 502.44,139.4 502.31,134.61 502.17,147.31 502.04,129.36 501.9,138.67 501.77,130.59 501.64,131.55 501.5,125.94 501.37,129.3 501.23,121.09 501.1,118.57 500.96,106.53 500.83,112.47 500.74,149.53 500.56,135.12 500.43,145.86 500.29,131.69 500.16,146.35 500.02,124.19 499.89,139.31 499.75,127.27 499.62,138.31 499.48,125.66 499.35,138.42 499.22,119.42 499.08,125.27 498.95,118.33 498.81,118.94 498.68,111.04 498.54,111.88 498.45,144.55 498.27,132.43 498.14,138.98 498.01,127.06 497.87,132.16 497.74,129.29 497.6,136.94 497.47,124.96 497.33,131.96 497.2,121.77 497.07,126.79 496.93,119.23 496.8,119.22 496.66,109.14 496.53,108 496.39,97.15 496.26,104.92 496.17,141.79 495.99,128.84 495.86,134.2 495.72,126.95 495.59,133.78 495.45,126.69 495.32,132.81 495.18,129.71 495.05,129.94 494.91,118.12 494.78,124.82 494.65,118.4 494.51,118.03 494.38,109.44 494.24,113.59 494.11,108.65 493.97,103.05 493.88,140.83 493.7,135.24 493.57,145.82 493.44,139.18 493.3,142.81 493.17,131.96 493.03,137.25 492.9,130.41 492.76,138.04 492.63,125.25 492.49,126.58 492.36,121.13 492.23,122.57 492.09,116.32 491.96,116.16 491.82,110.23 491.69,109.57 491.6,145.82 491.42,136.04 491.28,146.71 491.15,134.99 491.02,141.86 490.88,136.44 490.75,140.36 490.61,130.38 490.48,136.85 490.34,127.14 490.21,128.89 490.08,117.83 489.94,127.65 489.81,112.27 489.67,117.68 489.54,107.63 489.4,107.17 489.31,149.8 489.13,135.42 489,143.65 488.87,139.13 488.73,138.46 488.6,133.33 488.46,135.64 488.33,128.92 488.19,132.42 488.06,120.54 487.92,128.93 487.79,117.4 487.66,123.45 487.52,111.53 487.39,120.38 487.25,107.69 487.12,110.64 487.03,145.22 486.85,140.06 486.71,141.36 486.58,138.81 486.45,140.45 486.31,130.8 486.18,143.41 486.04,131.13 485.91,131.18 485.77,124.07 485.64,129.13 485.5,119.33 485.37,123.61 485.24,115.75 485.1,115.54 484.97,101.79 484.83,108.3 484.74,147.76 484.56,133.53 484.43,141.58 484.29,129.51 484.16,135.24 484.03,130.31 483.89,135.29 483.76,128.02 483.62,132.81 483.49,123.47 483.35,129.14 483.22,120.03 483.09,121.65 482.95,109.4 482.82,117.94 482.68,110.05 482.55,109.36 482.46,141.61 482.28,143.8 482.14,144.57 482.01,136.66 481.88,141.09 481.74,136.02 481.61,140.25 481.47,132.82 481.34,141.36 481.2,128.22 481.07,130.84 480.93,121.11 480.8,121.47 480.67,117.87 480.53,118.78 480.4,104.37 480.26,101.54 480.17,152.69 479.99,142.85 479.86,143.91 479.72,135.27 479.59,144.1 479.46,135.56 479.32,139.07 479.19,131.55 479.05,136.71 478.92,124.43 478.78,128.86 478.65,117.14 478.51,123.53 478.38,110.55 478.25,110.94 478.11,105.23 477.98,101.86 477.89,150.02 477.71,136.58 477.57,142.16 477.44,138.77 477.3,144.81 477.17,136.57 477.04,136.43 476.9,127.73 476.77,136.24 476.63,119.87 476.5,133.76 476.36,122.68 476.23,122.45 476.09,114.94 475.96,112.16 475.83,106.58 475.69,102.46 475.6,148.16 475.42,133.64 475.29,137.13 475.15,133.57 475.02,137.66 474.89,126.95 474.75,132.8 474.62,130.1 474.48,132.11 474.35,127.79 474.21,130.22 474.08,116.8 473.94,119.98 473.81,112.38 473.68,116.12 473.54,109.96 473.41,111.32 473.32,142.82 473.14,141.6 473,145.22 472.87,137.7 472.73,148.85 472.6,128.75 472.47,140.91 472.33,125.75 472.2,138.63 472.06,129.49 471.93,128.75 471.79,125.81 471.66,124.53 471.52,119.73 471.39,116.25 471.26,109.53 471.12,111.85 471.03,149.87 470.85,137.56 470.72,146.07 470.58,133.67 470.45,142.48 470.31,132.83 470.18,135.51 470.05,131.32 469.91,133.19 469.78,130 469.64,127.99 469.51,123.18 469.37,121.06 469.24,111.37 469.1,114.75 468.97,106.13 468.84,112.83 468.75,150.92 468.57,137.82 468.43,145.89 468.3,140.32 468.16,137.56 468.03,134.54 467.9,136.46 467.76,132.38 467.63,136.22 467.49,129.55 467.36,128.93 467.22,119.44 467.09,125.26 466.95,112.23 466.82,114.26 466.69,100.72 466.55,107.01 466.46,148.69 466.28,139.75 466.15,142.47 466.01,131.11 465.88,141.09 465.74,130.84 465.61,136.79 465.48,132.37 465.34,131.81 465.21,119.51 465.07,126.28 464.94,116.8 464.8,122.05 464.67,113.4 464.53,114.9 464.4,107.71 464.27,108.31 464.18,146.63 464,135.55 463.86,139.39 463.73,137.31 463.59,142.15 463.46,132.44 463.32,139.34 463.19,130.48 463.06,136.9 462.92,126.72 462.79,129.58 462.65,117.91 462.52,119.72 462.38,112.45 462.25,116.11 462.11,102.65 461.98,107.75 461.89,143.47 461.71,141.18 461.58,145.34 461.44,136.16 461.31,141.41 461.17,134.97 461.04,143.9 460.91,133.91 460.77,135.31 460.64,123.58 460.5,129.85 460.37,117.91 460.23,122.18 460.1,119.52 459.96,117.09 459.83,108.73 459.7,115.12 459.61,149.59 459.43,141.82 459.29,145.34 459.16,141.16 459.02,147.7 458.89,133.15 458.75,146.16 458.62,135.47 458.49,137.01 458.35,131.81 458.22,130.82 458.08,127.43 457.95,127.37 457.81,110.79 457.68,125.11 457.54,109.13 457.41,116.84 457.32,151.6 457.14,139.32 457.01,149.59 456.87,144.87 456.74,153.24 456.6,140.46 456.47,146.72 456.33,134.64 456.2,141.38 456.07,130.34 455.93,132.55 455.8,122.78 455.66,125.95 455.53,110.08 455.39,113.87 455.26,105.46 455.12,106.35 455.04,154.4 454.86,141.13 454.72,142.36 454.59,136.76 454.45,144.2 454.32,134.14 454.18,135.21 454.05,121.53 453.92,125.63 453.78,110.74 453.65,119.83 453.51,106.76 453.38,105.91 453.24,97.55 453.11,96.71 452.97,81.19 452.84,80.21 452.75,153.72 452.47,142.92 452.08,153.66 451.69,149 451.29,156.85 450.9,144.62 450.51,150.74 450.12,152.21 449.73,151.51 449.33,139.72 448.94,170.48 448.55,144.24 448.16,150.95 447.77,151.93 447.37,151.66 446.98,163.23 446.59,153.39 445.02,151.65 443.45,152.61 441.88,151.43 440.32,154.55 438.75,153.03 437.18,152.07 435.61,145.13 434.04,156.31 432.47,147.84 430.91,151.9 429.34,150.15 427.77,153.83 426.2,155.46 424.63,150.46 423.06,155.15 421.5,145.59 419.93,156.68" fill="#c9c9c9" fill-opacity="1.0" stroke="none"/>
<polygon points="419.93,137.49 421.5,130.46 423.06,145.35 424.63,139.83 426.2,141.98 427.77,132.42 429.34,144.53 430.91,142.46 432.47,142.94 434.04,141.22 435.61,133.6 437.18,126.88 438.75,147.57 440.32,130.65 441.88,137.94 443.45,143.39 445.02,137.61 446.59,139.54 446.98,141.35 447.37,128.81 447.77,150.66 448.16,133.79 448.55,137.47 448.94,142.61 449.33,135 449.73,134.37 450.12,140.54 450.51,137.15 450.9,136.73 451.29,149.49 451.69,127.71 452.08,132.15 452.47,139.48 452.75,138.8 452.84,57.76 452.97,57.51 453.11,67.05 453.24,63.55 453.38,71.26 453.51,70.74 453.65,81.42 453.78,68.17 453.92,80.75 454.05,81.92 454.18,83.04 454.32,78.59 454.45,87.9 454.59,80.06 454.72,85.86 454.86,81.36 455.04,88.16 455.12,59.91 455.26,62.37 455.39,71.99 455.53,68.74 455.66,85.09 455.8,76 455.93,86.41 456.07,80.34 456.2,82.68 456.33,79.77 456.47,92.21 456.6,81.69 456.74,87.51 456.87,84.41 457.01,88.91 457.14,83.59 457.32,88.06 457.41,65.63 457.54,60.48 457.68,67.75 457.81,68.19 457.95,77.39 458.08,66.71 458.22,85.98 458.35,79.06 458.49,82.77 458.62,78.93 458.75,82.54 458.89,74.16 459.02,87.61 459.16,79.59 459.29,85.11 459.43,83.73 459.61,87.88 459.7,64.54 459.83,65.81 459.96,74.04 460.1,71.41 460.23,78.23 460.37,76.59 460.5,80.69 460.64,73.04 460.77,83.88 460.91,79.78 461.04,90.97 461.17,82.4 461.31,87.47 461.44,76.19 461.58,92.92 461.71,86.11 461.89,89.19 461.98,64.91 462.11,64.3 462.25,77.08 462.38,73.35 462.52,78.13 462.65,78.06 462.79,82.37 462.92,82.01 463.06,84.81 463.19,83.35 463.32,93.42 463.46,79.27 463.59,87.02 463.73,84.18 463.86,89.07 464,86.51 464.18,89.83 464.27,53.23 464.4,52.84 464.53,64.77 464.67,63.67 464.8,80.21 464.94,72.78 465.07,79.86 465.21,79.12 465.34,83.97 465.48,80.43 465.61,87.72 465.74,80.68 465.88,86.61 466.01,85.41 466.15,87.87 466.28,76.6 466.46,85.47 466.55,62.63 466.69,63.94 466.82,70.17 466.95,70.6 467.09,80.85 467.22,68.98 467.36,78.8 467.49,73.66 467.63,82.46 467.76,78.43 467.9,85.23 468.03,83.88 468.16,88.01 468.3,82.08 468.43,87.19 468.57,79.5 468.75,84.4 468.84,58.78 468.97,60.15 469.1,73.3 469.24,62.8 469.37,76.78 469.51,69.77 469.64,79.83 469.78,75.97 469.91,86.71 470.05,75.07 470.18,81.3 470.31,79.72 470.45,82.94 470.58,76.87 470.72,85.07 470.85,76.8 471.03,85.85 471.12,66.45 471.26,65.22 471.39,73.59 471.52,72 471.66,77.23 471.79,73.75 471.93,84.59 472.06,77.96 472.2,83.59 472.33,77.2 472.47,83.51 472.6,75.79 472.73,88.83 472.87,81.46 473,85.88 473.14,81.22 473.32,86.03 473.41,74.49 473.54,68.18 473.68,79.26 473.81,70.38 473.94,82.5 474.08,81.18 474.21,83.05 474.35,79 474.48,84.13 474.62,82.21 474.75,87.61 474.89,82.41 475.02,89.38 475.15,83.2 475.29,96.04 475.42,77.96 475.6,89.29 475.69,62.92 475.83,59.35 475.96,82.87 476.09,70.77 476.23,77.02 476.36,74.45 476.5,85.08 476.63,78 476.77,87.17 476.9,76.51 477.04,85.15 477.17,83.64 477.3,86.24 477.44,81.5 477.57,89.06 477.71,87.63 477.89,87.68 477.98,69.2 478.11,63.62 478.25,82.09 478.38,68.36 478.51,78.96 478.65,74.8 478.78,83.34 478.92,79.4 479.05,88.85 479.19,75.48 479.32,85.6 479.46,77.73 479.59,91.28 479.72,80.44 479.86,89.67 479.99,78.2 480.17,90.19 480.26,67.23 480.4,70.56 480.53,83.24 480.67,74.68 480.8,82.31 480.93,80.5 481.07,84.05 481.2,75.55 481.34,91.73 481.47,75.6 481.61,88.66 481.74,84.83 481.88,90.79 482.01,84.78 482.14,94.53 482.28,82.88 482.46,87.14 482.55,64.18 482.68,65.73 482.82,76.17 482.95,74.71 483.09,78.26 483.22,77.39 483.35,86.92 483.49,70.93 483.62,93.76 483.76,81.39 483.89,90.91 484.03,78.57 484.16,86.42 484.29,75.92 484.43,87.6 484.56,83.04 484.74,89.74 484.83,66.17 484.97,66.95 485.1,73.96 485.24,73.42 485.37,83.45 485.5,76.84 485.64,85.29 485.77,82.21 485.91,87.33 486.04,86.2 486.18,93.58 486.31,78.64 486.45,90.51 486.58,84.62 486.71,89.32 486.85,82.39 487.03,88.34 487.12,71.44 487.25,69.06 487.39,80.26 487.52,77.01 487.66,81.8 487.79,81.22 487.92,84.73 488.06,78.57 488.19,89.21 488.33,84.37 488.46,91.53 488.6,86.33 488.73,96.21 488.87,79.95 489,94.28 489.13,83.64 489.31,89.31 489.4,67.54 489.54,68.76 489.67,77.3 489.81,68.99 489.94,80.84 490.08,79.81 490.21,82.94 490.34,81.67 490.48,88.23 490.61,84.44 490.75,88.49 490.88,75.14 491.02,86.94 491.15,84.32 491.28,89.84 491.42,76.98 491.6,88.06 491.69,69.58 491.82,66.06 491.96,78.01 492.09,76.55 492.23,90.63 492.36,73.91 492.49,84.19 492.63,81.33 492.76,86.87 492.9,82.99 493.03,89.47 493.17,83.59 493.3,93.1 493.44,79.96 493.57,94.12 493.7,83.87 493.88,87.3 493.97,64.31 494.11,65.7 494.24,71.97 494.38,65.58 494.51,81.61 494.65,74.42 494.78,84.68 494.91,76.85 495.05,85.5 495.18,71.7 495.32,84.88 495.45,84.84 495.59,91.92 495.72,80.1 495.86,89.59 495.99,82.93 496.17,88.53 496.26,68.96 496.39,67.72 496.53,75.95 496.66,73.22 496.8,83.67 496.93,77.78 497.07,86.43 497.2,75.93 497.33,90.43 497.47,82.84 497.6,91.95 497.74,81.93 497.87,87.32 498.01,84.84 498.14,94.11 498.27,87.76 498.45,89.35 498.54,68.22 498.68,63.09 498.81,78.19 498.95,69.81 499.08,83.22 499.22,71.14 499.35,86.79 499.48,79.54 499.62,86.1 499.75,83.58 499.89,99.46 500.02,86.26 500.16,91.96 500.29,81.5 500.43,87.58 500.56,89.35 500.74,91.94 500.83,70.56 500.96,67.82 501.1,81.71 501.23,79.83 501.37,86.29 501.5,77.03 501.64,91.45 501.77,88.03 501.9,92.86 502.04,82.28 502.17,90.72 502.31,88.49 502.44,95.81 502.58,89.09 502.71,95.07 502.85,85.99 503.02,94.8 503.11,72.18 503.25,71.15 503.38,80.58 503.52,76.16 503.65,91.32 503.79,76.99 503.92,97.35 504.06,79.4 504.19,88.6 504.32,89.59 504.46,94.16 504.59,88.46 504.73,91.95 504.86,88.62 505,99.66 505.13,85.8 505.31,93.13 505.4,72.84 505.53,71.84 505.67,80.12 505.8,80.43 505.94,88.88 506.07,80.32 506.21,86.48 506.34,83.47 506.47,92.08 506.61,88.38 506.74,90.11 506.88,82.56 507.01,100.33 507.15,85.16 507.28,97.22 507.42,87.7 507.59,90.2 507.68,73.35 507.82,68.8 507.95,78.17 508.09,80.02 508.22,87.16 508.36,78.47 508.49,87.33 508.63,83.82 508.76,94.25 508.89,73.04 509.03,91.6 509.16,89.82 509.3,95.85 509.43,81.09 509.57,91.31 509.7,87.49 509.88,95.28 509.97,68.2 510.1,73.35 510.24,79.08 510.37,76.43 510.51,88.63 510.64,79.33 510.78,92.19 510.91,82.53 511.05,88.38 511.18,90.7 511.31,100.61 511.45,88.05 511.58,95.31 511.72,91.28 511.85,94.6 511.99,87.52 512.17,90.47 512.26,72.73 512.39,71.68 512.52,81.72 512.66,77.21 512.79,80.96 512.93,84.15 513.06,87.29 513.2,83.83 513.33,87.49 513.46,86.26 513.6,87.71 513.73,86.27 513.87,93.97 514,86.41 514.14,92.49 514.27,84.49 514.45,94.87 514.54,79.4 514.67,76.58 514.81,83.95 514.94,81.45 515.08,88.03 515.21,86.08 515.35,93.62 515.48,86.09 515.62,92.97 515.75,86.35 515.88,102.87 516.02,88.79 516.15,94.79 516.29,92.97 516.42,95.39 516.56,90.74 516.74,94.87 516.83,82.39 516.96,76.75 517.09,80.12 517.23,80.27 517.36,89.71 517.5,85.72 517.63,91.36 517.77,88.79 517.9,95.84 518.04,85.97 518.17,93.94 518.3,84.57 518.44,95.19 518.57,88.25 518.71,102.9 518.84,86.91 519.02,97.65 519.11,78.91 519.25,79.51 519.38,87.57 519.51,85.02 519.65,94.38 519.78,85.13 519.92,95.98 520.05,87.66 520.19,97.84 520.32,93.45 520.45,93.55 520.59,91.48 520.72,98.41 520.86,92.13 520.99,96.98 521.13,93.48 520.52,86.08 521.19,102.86 521.87,101.72 522.54,99.87 523.21,102.32 523.88,117.27 524.55,110.12 525.23,117.96 525.9,111.64 526.57,115.91 527.24,118.59 527.92,121.59 528.59,120.5 529.26,123.13 529.93,117.4 530.6,114.35 531.28,134.08 531.95,119.73 532.62,123.31 533.29,119.38 533.96,128.97 534.64,123.05 535.31,128.44 535.98,117.23 536.65,124.89 537.33,125.34 538,121.98 538.67,126.37 539.34,131.23 540.01,119.31 540.69,125.65 541.36,127.54 542.03,119.05 542.7,122.63 543.37,133.61 544.05,126.33 544.72,116.11 545.39,120.74 546.06,132.65 546.73,130.42 547.41,126.78 548.08,126.43 548.75,132.51 549.42,122.03 550.1,131.22 550.77,129.04 551.44,118.12 552.11,132.1 552.78,124.36 553.46,121.4 554.13,121.98 554.8,128.86 555.47,123.5 556.14,130.47 556.82,116.11 557.49,126.55 558.16,132.45 558.83,122.57 559.51,122.55 560.18,126.26 560.85,117.6 561.52,123.97 562.19,130.44 562.87,125.93 563.54,132.42 564.21,122.94 564.88,126.3 565.55,113.08 566.23,131.98 566.9,137.45 567.57,124.51 568.24,123.45 568.91,133.36 569.59,127.73 570.26,127.11 570.93,124.95 571.6,127.99 572.28,130.61 572.95,119.48 573.62,131.74 574.29,127.04 574.96,131.14 575.64,127.23 576.31,121.41 576.98,136.08 577.65,123.77 578.32,123.86 579,128.59 579.67,125.58 580.34,133.15 581.01,117.06 581.69,124.01 582.36,127.58 583.03,135.85 583.7,128.51 584.37,118.69 585.05,121.3 585.72,129.25 586.39,120.45 587.06,132.6 587.73,124.89 588.41,126.93 589.08,124.41 589.75,134.66 590.42,118.72 591.09,121.51 591.77,136.11 592.44,130.47 593.11,121.22 593.78,131.67 594.46,136.44 595.13,117.78 595.8,127.88 596.47,129.17 597.14,115.17 597.82,130.03 598.49,129.55 599.16,124.17 599.83,130.61 600.5,127.69 601.18,123.84 601.85,131.15 602.52,128.84 603.19,118.39 603.86,127.25 604.54,124.31 605.21,125.5 605.88,125.33 606.55,121.19 607.23,130.16 607.9,118.53 608.57,134.32 609.24,127.3 609.91,133.4 610.59,125.37 611.26,124.5 611.93,120.14 612.6,133.28 613.27,125.81 613.95,129.82 614.62,130.29 615.29,130.83 615.96,124.68 616.64,136.61 617.31,122.51 617.98,127.65 618.65,129.3 619.32,129.94 620,130.91 620.67,114.05 621.34,136.71 622.01,117.14 622.68,127.37 623.36,130.75 624.03,132.63 624.7,120.37 625.37,122.07 626.04,136.01 626.72,127.26 627.39,120.99 628.06,128.45 628.73,119.47 629.41,134.41 630.08,124.12 630.75,133.85 631.42,115.16 632.09,135.07 632.77,137.06 633.44,123.09 634.11,126.65 634.78,118.25 635.45,132.92 636.13,126.73 636.8,125.5 637.47,122.19 638.14,130.1 638.82,122.57 639.49,126.55 640.16,130.06 640.83,125.4 641.5,128.13 642.18,131.81 642.85,119.4 643.52,135.83 644.19,119.96 644.86,125.66 645.54,129.92 646.21,130.6 646.88,127.74 647.55,124.5 648.22,124.33 648.9,127.01 649.57,123.98 650.24,132.37 650.91,125.61 651.59,135.74 652.26,120.74 652.93,127.18 653.6,131.04 654.27,119.81 654.27,133.49 653.6,139.83 652.93,140.85 652.26,131.36 651.59,146.49 650.91,135.89 650.24,143.4 649.57,133.87 648.9,139.56 648.22,136.68 647.55,136.07 646.88,137.2 646.21,142.4 645.54,141.13 644.86,136.27 644.19,128.84 643.52,148.7 642.85,130.99 642.18,143.06 641.5,137.87 640.83,138.51 640.16,140.94 639.49,138.86 638.82,133.07 638.14,143.23 637.47,131.01 636.8,134.59 636.13,137.75 635.45,144.4 634.78,128.56 634.11,139.91 633.44,134.34 632.77,146.7 632.09,146.7 631.42,125.04 630.75,146.18 630.08,133.89 629.41,145.34 628.73,128.43 628.06,138.48 627.39,133.23 626.72,137.15 626.04,145.98 625.37,131.38 624.7,130.16 624.03,142.4 623.36,140.82 622.68,139.07 622.01,127.58 621.34,149.67 620.67,127.43 620,143.4 619.32,142.28 618.65,142.45 617.98,137.96 617.31,134.26 616.64,145.56 615.96,134.87 615.29,142.64 614.62,140.48 613.95,138.86 613.27,136.47 612.6,144.51 611.93,133.33 611.26,134.17 610.59,137.08 609.91,143.8 609.24,136.1 608.57,147.85 607.9,128.61 607.23,141.31 606.55,131.91 605.88,137.26 605.21,137.83 604.54,136.61 603.86,136.59 603.19,128.52 602.52,137.93 601.85,140.65 601.18,133.96 600.5,139.89 599.83,144.55 599.16,136.33 598.49,142.97 597.82,142.43 597.14,127.15 596.47,140.7 595.8,138.72 595.13,128.81 594.46,148.02 593.78,140.65 593.11,134.07 592.44,142.05 591.77,145.07 591.09,134.29 590.42,130.06 589.75,146.2 589.08,135.89 588.41,136.56 587.73,138.59 587.06,142.88 586.39,133.1 585.72,139.51 585.05,130.67 584.37,131.59 583.7,138.07 583.03,146.11 582.36,138.98 581.69,135.13 581.01,129.57 580.34,142.59 579.67,134.45 579,142.05 578.32,132.85 577.65,133.81 576.98,146.09 576.31,132.75 575.64,138.13 574.96,143.69 574.29,139.14 573.62,140.53 572.95,132.78 572.28,140.83 571.6,138.67 570.93,133.76 570.26,136.19 569.59,138.67 568.91,142.65 568.24,136.01 567.57,136.3 566.9,146.42 566.23,142.09 565.55,124.94 564.88,136.6 564.21,132.37 563.54,142.69 562.87,135.76 562.19,143.78 561.52,133.85 560.85,129.98 560.18,135.24 559.51,133.61 558.83,135.57 558.16,143.84 557.49,137.62 556.82,126.39 556.14,140.42 555.47,137.36 554.8,140.57 554.13,135.59 553.46,134.86 552.78,135.94 552.11,140.92 551.44,130.32 550.77,139.44 550.1,143.54 549.42,133.13 548.75,142.76 548.08,137.76 547.41,136.34 546.73,139.74 546.06,142.49 545.39,134.18 544.72,127.44 544.05,138.11 543.37,143.67 542.7,131.36 542.03,132.13 541.36,136.33 540.69,135.14 540.01,129.07 539.34,143.21 538.67,137.97 538,133.88 537.33,136.46 536.65,136.67 535.98,130.74 535.31,139.62 534.64,132.51 533.96,140.01 533.29,131.21 532.62,136.63 531.95,128.68 531.28,145.72 530.6,127.11 529.93,126.84 529.26,133.56 528.59,129.91 527.92,131.36 527.24,130.19 526.57,129.22 525.9,121.93 525.23,131.79 524.55,122.78 523.88,129.18 523.21,115.4 522.54,111.5 521.87,111.83 521.19,115.61 520.52,95.95 521.13,111.55 520.99,110.99 520.86,107.28 520.72,112.87 520.59,104.28 520.45,110.82 520.32,107.57 520.19,113.48 520.05,102.19 519.92,110.14 519.78,102.82 519.65,108.33 519.51,99.49 519.38,103.5 519.25,94.52 519.11,93.79 519.02,110.03 518.84,101.4 518.71,115.98 518.57,107.01 518.44,107.5 518.3,98.68 518.17,110.29 518.04,102.93 517.9,108.23 517.77,103.84 517.63,104.69 517.5,101.49 517.36,103.76 517.23,97.71 517.09,98.97 516.96,91.05 516.83,100.6 516.74,107.73 516.56,109.84 516.42,109.07 516.29,107.48 516.15,108.16 516.02,107.36 515.88,115.98 515.75,105.13 515.62,106.14 515.48,99.8 515.35,107.49 515.21,102.87 515.08,100.94 514.94,100.42 514.81,97.53 514.67,94.71 514.54,96.8 514.45,109.95 514.27,103.07 514.14,111.47 514,104.96 513.87,109.05 513.73,100.15 513.6,105.97 513.46,98.59 513.33,102.52 513.2,100.36 513.06,101.9 512.93,96.99 512.79,100.05 512.66,90.8 512.52,95.83 512.39,87.58 512.26,85.69 512.17,106.44 511.99,103.46 511.85,107.69 511.72,108.87 511.58,111.73 511.45,101.3 511.31,114.93 511.18,104.96 511.05,106.4 510.91,98.91 510.78,105.35 510.64,93.03 510.51,106.25 510.37,90.38 510.24,95.43 510.1,89.44 509.97,86.21 509.88,109.95 509.7,103.96 509.57,107.4 509.43,100.23 509.3,108.45 509.16,102.06 509.03,109.14 508.89,91.5 508.76,109.82 508.63,98.47 508.49,100.76 508.36,93.3 508.22,104.17 508.09,93.18 507.95,96.75 507.82,86.64 507.68,88.08 507.59,107.32 507.42,102.66 507.28,109.56 507.15,101.76 507.01,114.44 506.88,101.35 506.74,108.75 506.61,100.9 506.47,105.46 506.34,100.69 506.21,104.59 506.07,98.87 505.94,102.92 505.8,95.4 505.67,97.68 505.53,87.59 505.4,89.39 505.31,110.17 505.13,102.81 505,116.74 504.86,104.23 504.73,107.09 504.59,107.03 504.46,108.1 504.32,104.48 504.19,106.17 504.06,98.12 503.92,115.69 503.79,95.71 503.65,103.54 503.52,93.99 503.38,98 503.25,87.1 503.11,88.89 503.02,107.65 502.85,98.65 502.71,109.11 502.58,106.95 502.44,108.88 502.31,102.1 502.17,109.06 502.04,99.17 501.9,109.55 501.77,100.25 501.64,110.43 501.5,95.92 501.37,105.1 501.23,93.05 501.1,98.85 500.96,83.79 500.83,84.66 500.74,110.09 500.56,102.83 500.43,105.82 500.29,97.23 500.16,107.82 500.02,98.48 499.89,112.33 499.75,99.36 499.62,101.92 499.48,94.36 499.35,105.19 499.22,88.84 499.08,98.67 498.95,82.29 498.81,90.58 498.68,79.69 498.54,87.18 498.45,106.67 498.27,102.6 498.14,109.81 498.01,103.95 497.87,106.42 497.74,99.96 497.6,109.69 497.47,100.62 497.33,108.94 497.2,90.71 497.07,104.57 496.93,92.52 496.8,99.85 496.66,90.52 496.53,92.55 496.39,83.54 496.26,86.38 496.17,107.07 495.99,100.12 495.86,102.48 495.72,93.58 495.59,108.94 495.45,100.1 495.32,103.17 495.18,90.25 495.05,102.45 494.91,93.6 494.78,99.21 494.65,91.8 494.51,95.44 494.38,83.33 494.24,85.49 494.11,81.92 493.97,76.77 493.88,106.14 493.7,101.35 493.57,110.51 493.44,98.56 493.3,110.83 493.17,102.53 493.03,104.23 492.9,99.56 492.76,101.53 492.63,94.33 492.49,97.84 492.36,91.84 492.23,108.03 492.09,89.98 491.96,92.47 491.82,82.76 491.69,85.75 491.6,106.86 491.42,94.46 491.28,102.99 491.15,101.91 491.02,104.23 490.88,89.68 490.75,105.87 490.61,97.32 490.48,106.32 490.34,95.04 490.21,97.67 490.08,93.18 489.94,95.22 489.81,86.28 489.67,92.89 489.54,81.64 489.4,82.69 489.31,102.16 489.13,97.37 489,110.35 488.87,98.33 488.73,109.7 488.6,101.28 488.46,104.42 488.33,102.35 488.19,104.39 488.06,97.59 487.92,100.06 487.79,95.66 487.66,100.6 487.52,92.64 487.39,95.35 487.25,82.19 487.12,87.89 487.03,106.19 486.85,96.74 486.71,105.65 486.58,102.56 486.45,104.78 486.31,94.61 486.18,107.52 486.04,101.11 485.91,104.66 485.77,99.81 485.64,97.54 485.5,94.06 485.37,98.45 485.24,87.02 485.1,90.73 484.97,81.17 484.83,80.79 484.74,108.35 484.56,101.58 484.43,103.07 484.29,91.47 484.16,101.58 484.03,92.88 483.89,106.5 483.76,93.63 483.62,106.19 483.49,89.46 483.35,100.53 483.22,95.39 483.09,96.13 482.95,90.17 482.82,92.42 482.68,83.33 482.55,79.07 482.46,105.34 482.28,101.83 482.14,107.99 482.01,103.21 481.88,104.77 481.74,100.34 481.61,102.11 481.47,90.08 481.34,107.01 481.2,90.73 481.07,100.73 480.93,92.79 480.8,95.01 480.67,90.22 480.53,101.34 480.4,87.15 480.26,86.03 480.17,104.45 479.99,95.68 479.86,105.98 479.72,96.2 479.59,104.75 479.46,91.06 479.32,103.87 479.19,87.69 479.05,105.64 478.92,96.3 478.78,100.86 478.65,91.52 478.51,94.37 478.38,87.28 478.25,99.02 478.11,77.48 477.98,82.65 477.89,102.4 477.71,100.76 477.57,101.34 477.44,97.63 477.3,102.31 477.17,97.32 477.04,102.4 476.9,94.9 476.77,103.7 476.63,93.14 476.5,101.23 476.36,86.96 476.23,94.98 476.09,88.34 475.96,96.23 475.83,77.7 475.69,81.86 475.6,101.8 475.42,94.74 475.29,109.41 475.15,100.75 475.02,104.63 474.89,100.24 474.75,105.56 474.62,100.69 474.48,101.92 474.35,97.57 474.21,96.84 474.08,95.08 473.94,96.59 473.81,87.37 473.68,96.01 473.54,86.4 473.41,90.11 473.32,103.84 473.14,99.05 473,100.2 472.87,96.48 472.73,103.68 472.6,92.52 472.47,101.26 472.33,96.2 472.2,100.44 472.06,91.14 471.93,99.4 471.79,92.49 471.66,90.74 471.52,86.09 471.39,86.62 471.26,78.76 471.12,79.05 471.03,102.44 470.85,92.51 470.72,100.22 470.58,90.04 470.45,96.84 470.31,93.37 470.18,95.08 470.05,93.04 469.91,104.17 469.78,89.69 469.64,93.62 469.51,87.88 469.37,94.72 469.24,81.96 469.1,87.75 468.97,78.51 468.84,73.29 468.75,98.53 468.57,97.9 468.43,101.08 468.3,95.73 468.16,106.56 468.03,98.64 467.9,99.74 467.76,95.83 467.63,97.36 467.49,87.29 467.36,97.11 467.22,82.98 467.09,94.76 466.95,87.5 466.82,85.34 466.69,80.48 466.55,79.09 466.46,103.84 466.28,91.38 466.15,106.19 466.01,98.21 465.88,101.87 465.74,97.37 465.61,100.51 465.48,92.75 465.34,99.02 465.21,91.59 465.07,92.39 464.94,89.2 464.8,97.51 464.67,79.86 464.53,78.17 464.4,68.6 464.27,71.82 464.18,103.6 464,98.96 463.86,107.66 463.73,99.9 463.59,104.81 463.46,98.36 463.32,107.58 463.19,99.82 463.06,99.46 462.92,94.62 462.79,98.33 462.65,94.67 462.52,91.06 462.38,88.09 462.25,95.42 462.11,78.43 461.98,78.97 461.89,105.53 461.71,98.33 461.58,107.27 461.44,92.17 461.31,102.89 461.17,99.71 461.04,106.21 460.91,96.91 460.77,100.91 460.64,87.92 460.5,99.12 460.37,89.49 460.23,90.81 460.1,83.66 459.96,92.75 459.83,79.31 459.7,76.89 459.61,102.25 459.43,102.29 459.29,101.73 459.16,93.35 459.02,103.2 458.89,92.15 458.75,99.99 458.62,96.42 458.49,96.61 458.35,96.34 458.22,100.65 458.08,85.73 457.95,92.56 457.81,84.3 457.68,86.26 457.54,75.74 457.41,81.26 457.32,101.42 457.14,101.64 457.01,101.86 456.87,98.82 456.74,104.11 456.6,97.24 456.47,106.18 456.33,97.54 456.2,101.24 456.07,93.5 455.93,105.4 455.8,93.03 455.66,102.27 455.53,81.73 455.39,86.6 455.26,78.44 455.12,73.71 455.04,103.16 454.86,100.5 454.72,100.05 454.59,96.5 454.45,106.72 454.32,94.95 454.18,97.15 454.05,94.2 453.92,95.96 453.78,86.28 453.65,97.44 453.51,87.66 453.38,90.38 453.24,80.46 453.11,82.93 452.97,75.06 452.84,72.66 452.75,151.3 452.47,147.52 452.08,140.4 451.69,138.04 451.29,157.56 450.9,145.48 450.51,146.42 450.12,148.18 449.73,145.18 449.33,148.03 448.94,150.36 448.55,147.75 448.16,142.02 447.77,160.15 447.37,138.26 446.98,150.37 446.59,148.01 445.02,147.09 443.45,153.82 441.88,150.21 440.32,143.75 438.75,157.8 437.18,139.18 435.61,143.38 434.04,152.23 432.47,151.33 430.91,150.01 429.34,154.46 427.77,143.41 426.2,150.32 424.63,147.07 423.06,152.74 421.5,144.29 419.93,149.12" fill="#c9c9c9" fill-opacity="1.0" stroke="none"/>
<polyline points="419.93,151.72 421.5,139.4 423.06,148.48 424.63,146.42 426.2,148.5 427.77,150.29 429.34,144.52 430.91,147.5 432.47,143.47 434.04,151.09 435.61,139.53 437.18,147.06 438.75,147.05 440.32,147.75 441.88,147.35 443.45,148.29 445.02,146.03 446.59,148.47 446.98,158.64 447.37,146.41 447.77,146.02 448.16,144.29 448.55,137.47 448.94,164.13 449.33,135.02 449.73,144.94 450.12,146.24 450.51,146.64 450.9,137.81 451.29,152.5 451.69,143.13 452.08,147.75 452.47,136.26 452.75,145.05" fill="none" stroke="#0c840c" stroke-width="1.0" stroke-linejoin="round" />
<polyline points="452.75,145.05 452.84,73.09 452.97,73.61 453.11,88.39 453.24,91.28 453.38,99.02 453.51,100.29 453.65,111.15 453.78,103.86 453.92,117.79 454.05,114.28 454.18,128.28 454.32,124.77 454.45,136.33 454.59,128.38 454.72,133.8 454.86,132.16 455.04,147.38 455.12,99.97 455.26,97.73 455.39,107.17 455.53,103.9 455.66,116.64 455.8,114.49 455.93,125.01 456.07,123.76 456.2,132.62 456.33,126.68 456.47,140 456.6,130.93 456.74,143.82 456.87,135.54 457.01,140.6 457.14,131.36 457.32,144.44 457.41,108.47 457.54,102.5 457.68,116.86 457.81,104.46 457.95,121.21 458.08,118.83 458.22,123.52 458.35,123.27 458.49,128.18 458.62,126.45 458.75,137.91 458.89,124.1 459.02,139.3 459.16,131.82 459.29,136.11 459.43,135.56 459.61,142.55 459.7,107.66 459.83,101.75 459.96,110.37 460.1,110.37 460.23,115.99 460.37,111.17 460.5,121.09 460.64,116.7 460.77,128.31 460.91,124.43 461.04,135.13 461.17,127.3 461.31,134.83 461.44,129.12 461.58,135.81 461.71,132.31 461.89,137.13 461.98,99.18 462.11,95.24 462.25,107.5 462.38,105.31 462.52,113.16 462.65,111.74 462.79,122.44 462.92,117.61 463.06,127.69 463.19,121.99 463.32,130.63 463.46,125.65 463.59,134.81 463.73,128.07 463.86,129.84 464,127.9 464.18,137.82 464.27,98.95 464.4,98.13 464.53,107.76 464.67,105.02 464.8,114.59 464.94,109.07 465.07,118.56 465.21,112.43 465.34,125.64 465.48,123.59 465.61,128.26 465.74,121.8 465.88,134.45 466.01,124.17 466.15,134.29 466.28,130.38 466.46,140.94 466.55,100.21 466.69,92.54 466.82,104.82 466.95,103.1 467.09,116.02 467.22,111.91 467.36,121.92 467.49,120.41 467.63,127.37 467.76,123.31 467.9,128.99 468.03,127.44 468.16,130.62 468.3,131.18 468.43,136.58 468.57,130.44 468.75,141.76 468.84,105.4 468.97,98.46 469.1,106.67 469.24,104.49 469.37,114.02 469.51,116.15 469.64,120.98 469.78,122.1 469.91,126.74 470.05,122.49 470.18,128.8 470.31,125.17 470.45,134.14 470.58,127.08 470.72,138.54 470.85,129.49 471.03,141.85 471.12,102.63 471.26,100.68 471.39,109.72 471.52,110.72 471.66,116.51 471.79,117.34 471.93,122.09 472.06,121.74 472.2,130.08 472.33,116.86 472.47,132 472.6,121.89 472.73,139.85 472.87,129.62 473,136.78 473.14,132.52 473.32,135.3 473.41,102.01 473.54,100.78 473.68,107.2 473.81,104.95 473.94,112.03 474.08,110.1 474.21,121.47 474.35,118.58 474.48,125.44 474.62,121.4 474.75,124.28 474.89,120.72 475.02,128.36 475.15,125.79 475.29,130.09 475.42,127.43 475.6,139.33 475.69,95.18 475.83,98.69 475.96,105.37 476.09,106.72 476.23,114.96 476.36,113.76 476.5,125.33 476.63,111.25 476.77,129.26 476.9,121.41 477.04,127.26 477.17,127.2 477.3,136.46 477.44,129.46 477.57,133.6 477.71,128.36 477.89,142.46 477.98,94.52 478.11,97.42 478.25,104.06 478.38,102.95 478.51,115.65 478.65,110.93 478.78,121.39 478.92,117.33 479.05,128.39 479.19,122.61 479.32,130.83 479.46,127.14 479.59,135.85 479.72,128.27 479.86,136.49 479.99,133.8 480.17,143.28 480.26,94.8 480.4,98.22 480.53,109.33 480.67,108.77 480.8,113.25 480.93,112.16 481.07,122.66 481.2,118.96 481.34,134.41 481.47,125.17 481.61,131.8 481.74,129.16 481.88,132.49 482.01,129.64 482.14,135.99 482.28,134.89 482.46,134.03 482.55,99.81 482.68,101.74 482.82,109.2 482.95,103.23 483.09,115.16 483.22,111.44 483.35,119.75 483.49,115.18 483.62,123.52 483.76,121.71 483.89,126.08 484.03,121.15 484.16,126.94 484.29,121.91 484.43,133.02 484.56,126.57 484.74,139.33 484.83,99.77 484.97,93.8 485.1,108.53 485.24,109.64 485.37,116.82 485.5,110.32 485.64,122.28 485.77,117.71 485.91,124.22 486.04,123.22 486.18,135.26 486.31,121.64 486.45,131.36 486.58,129.33 486.71,132.17 486.85,132.39 487.03,138.63 487.12,101.2 487.25,100.79 487.39,112.11 487.52,104.51 487.66,114.5 487.79,110.6 487.92,121.36 488.06,113.67 488.19,123.32 488.33,120.65 488.46,127.34 488.6,126.13 488.73,131.74 488.87,130.03 489,134.88 489.13,126.76 489.31,140.22 489.4,99.12 489.54,100.9 489.67,109.44 489.81,105.16 489.94,119.76 490.08,110.13 490.21,120.82 490.34,117.83 490.48,127.92 490.61,122.83 490.75,131.41 490.88,127.34 491.02,133.06 491.15,126.96 491.28,137.47 491.42,128.22 491.6,139.35 491.69,102.52 491.82,101.83 491.96,108.74 492.09,108.74 492.23,115.06 492.36,114.36 492.49,120.15 492.63,118.98 492.76,129.59 492.9,123.18 493.03,129.55 493.17,122.59 493.3,134.52 493.44,130.25 493.57,137.05 493.7,125.81 493.88,134.49 493.97,95.61 494.11,99.24 494.24,105.87 494.38,100.03 494.51,111.28 494.65,112.09 494.78,115.6 494.91,110.58 495.05,122.06 495.18,120.34 495.32,125.94 495.45,117.21 495.59,126.3 495.72,119.99 495.86,127.28 495.99,120.93 496.17,134.06 496.26,95.73 496.39,90.87 496.53,101.75 496.66,102.51 496.8,111 496.93,110.4 497.07,119.01 497.2,113.52 497.33,123.61 497.47,118.79 497.6,129.97 497.74,119.71 497.87,124.91 498.01,117.65 498.14,131.16 498.27,125.55 498.45,138.44 498.54,105.02 498.68,103.82 498.81,111.3 498.95,110.67 499.08,117.26 499.22,111.67 499.35,132.2 499.48,118.63 499.62,128.85 499.75,121.07 499.89,130.65 500.02,116.43 500.16,137.78 500.29,124.43 500.43,138.47 500.56,127.21 500.74,140.25 500.83,105.22 500.96,100.13 501.1,112.33 501.23,111.91 501.37,122.1 501.5,119.42 501.64,123.37 501.77,121.54 501.9,130.48 502.04,122.73 502.17,139.79 502.31,127.58 502.44,133.24 502.58,131.47 502.71,136.24 502.85,132.58 503.02,139.47 503.11,100.46 503.25,98.29 503.38,112.55 503.52,104.51 503.65,116.58 503.79,111.22 503.92,123.13 504.06,110.88 504.19,128.86 504.32,125.14 504.46,134.05 504.59,126.89 504.73,135.35 504.86,120.94 505,133.25 505.13,127.48 505.31,134.32 505.4,102.97 505.53,103.04 505.67,111.31 505.8,107.43 505.94,114.42 506.07,104.7 506.21,118.47 506.34,116.39 506.47,126.11 506.61,121.29 506.74,126.16 506.88,120.22 507.01,128.74 507.15,123.93 507.28,129.27 507.42,117.09 507.59,131.22 507.68,101.61 507.82,98.19 507.95,106.55 508.09,106.03 508.22,111.46 508.36,103.07 508.49,117.33 508.63,115.63 508.76,119.58 508.89,115.96 509.03,128.88 509.16,120.17 509.3,129.02 509.43,123.1 509.57,125.55 509.7,124.89 509.88,138.07 509.97,98.07 510.1,88.35 510.24,109.03 510.37,101.17 510.51,116.21 510.64,113.95 510.78,118.59 510.91,119.21 511.05,125.82 511.18,123.25 511.31,127.71 511.45,126.55 511.58,130.02 511.72,126.16 511.85,133.05 511.99,123.46 512.17,136.9 512.26,100.11 512.39,92.15 512.52,107.26 512.66,107.37 512.79,112.66 512.93,106.29 513.06,118.84 513.2,112.38 513.33,121.87 513.46,118.32 513.6,130.39 513.73,120.44 513.87,129.78 514,126.83 514.14,130.49 514.27,120.46 514.45,138.5 514.54,103.52 514.67,105.73 514.81,113.19 514.94,105.84 515.08,118.87 515.21,114.47 515.35,124.66 515.48,121.88 515.62,126.81 515.75,121.6 515.88,129.84 516.02,127.01 516.15,132.35 516.29,128.01 516.42,140.7 516.56,126.18 516.74,139.34 516.83,99.06 516.96,98.84 517.09,108.73 517.23,109.51 517.36,119.3 517.5,115.39 517.63,120.86 517.77,117.86 517.9,128.66 518.04,118.66 518.17,128.86 518.3,121.91 518.44,135.17 518.57,129.24 518.71,132.07 518.84,130.35 519.02,136.63 519.11,105.82 519.25,102.84 519.38,113.28 519.51,108.06 519.65,123.73 519.78,115.2 519.92,120.98 520.05,119.94 520.19,123.74 520.32,119.25 520.45,132.3 520.59,126.85 520.72,129.55 520.86,123.51 520.99,131.59 521.13,121.19 520.52,108.82" fill="none" stroke="#0c840c" stroke-width="0.65" stroke-linejoin="round" />
<polyline points="520.52,108.82 521.19,122.33 521.87,118.74 522.54,134.77 523.21,116.38 523.88,130.4 524.55,120.86 525.23,137.66 525.9,119.96 526.57,130.11 527.24,123.25 527.92,133.92 528.59,128.79 529.26,115.79 529.93,136.75 530.6,129.57 531.28,127.81 531.95,132.34 532.62,120.15 533.29,122.39 533.96,135.21 534.64,134.9 535.31,118.82 535.98,125.4 536.65,126.66 537.33,124.46 538,134.91 538.67,127.21 539.34,134.57 540.01,132.13 540.69,120.57 541.36,133.7 542.03,116 542.7,132.97 543.37,131.65 544.05,123.24 544.72,121.55 545.39,130.04 546.06,135.39 546.73,124.12 547.41,122.75 548.08,133.9 548.75,131.23 549.42,122.06 550.1,130.15 550.77,134.23 551.44,128.1 552.11,131.49 552.78,125.65 553.46,128.83 554.13,123.46 554.8,127.84 555.47,137.81 556.14,123.47 556.82,125.39 557.49,128.58 558.16,124.89 558.83,133.72 559.51,132.26 560.18,122.39 560.85,136.04 561.52,136.99 562.19,119.37 562.87,134.66 563.54,128.89 564.21,135.05 564.88,134.1 565.55,133.47 566.23,130.03 566.9,128.26 567.57,142.65 568.24,122.28 568.91,138.16 569.59,133.44 570.26,125.34 570.93,132.73 571.6,138.13 572.28,118.78 572.95,139.07 573.62,127.93 574.29,130.56 574.96,124.67 575.64,136.25 576.31,125.22 576.98,136.78 577.65,124.08 578.32,137.16 579,131.18 579.67,121.23 580.34,133.69 581.01,131.29 581.69,120.63 582.36,134.27 583.03,135.87 583.7,125.91 584.37,138.46 585.05,123.26 585.72,127.89 586.39,136.6 587.06,133.04 587.73,129.07 588.41,131.6 589.08,136.02 589.75,126.48 590.42,142.35 591.09,129.01 591.77,132.36 592.44,131.8 593.11,129.32 593.78,137.94 594.46,125.93 595.13,133.55 595.8,134.16 596.47,136.59 597.14,134.18 597.82,127.18 598.49,136.88 599.16,129.1 599.83,126.55 600.5,128.85 601.18,126.27 601.85,136.32 602.52,136.11 603.19,124.32 603.86,132.29 604.54,126.86 605.21,133.97 605.88,125.89 606.55,130.14 607.23,130.02 607.9,130.77 608.57,130.83 609.24,131.4 609.91,131.09 610.59,127.42 611.26,136.28 611.93,122.27 612.6,135.97 613.27,126.77 613.95,134.29 614.62,132.73 615.29,121.47 615.96,137.63 616.64,137.23 617.31,132.45 617.98,131.77 618.65,120.78 619.32,135.47 620,127.79 620.67,138.65 621.34,127.99 622.01,129.39 622.68,124.67 623.36,139.1 624.03,127.48 624.7,131.74 625.37,137.45 626.04,129.8 626.72,133.14 627.39,142.51 628.06,124.05 628.73,130.64 629.41,135.22 630.08,137.43 630.75,121.98 631.42,133.9 632.09,127.69 632.77,127.43 633.44,137.55 634.11,126.99 634.78,134.93 635.45,131.81 636.13,132.31 636.8,131.87 637.47,126.71 638.14,133.87 638.82,133.08 639.49,133.07 640.16,129.85 640.83,137.12 641.5,132.58 642.18,131.28 642.85,134.72 643.52,131.47 644.19,134.81 644.86,121.21 645.54,130.1 646.21,132.87 646.88,133.39 647.55,121.55 648.22,135.36 648.9,133.3 649.57,130.55 650.24,131.39 650.91,126.1 651.59,135.35 652.26,122.11 652.93,140.99 653.6,127 654.27,138.55" fill="none" stroke="#0c840c" stroke-width="1.0" stroke-linejoin="round" />
<polyline points="419.93,143.31 421.5,137.37 423.06,149.04 424.63,143.45 426.2,146.15 427.77,137.91 429.34,149.49 430.91,146.23 432.47,147.13 434.04,146.72 435.61,138.49 437.18,133.03 438.75,152.69 440.32,137.2 441.88,144.08 443.45,148.6 445.02,142.35 446.59,143.78 446.98,145.86 447.37,133.53 447.77,155.4 448.16,137.9 448.55,142.61 448.94,146.48 449.33,141.52 449.73,139.77 450.12,144.36 450.51,141.79 450.9,141.1 451.29,153.53 451.69,132.87 452.08,136.27 452.47,143.5 452.75,145.05" fill="none" stroke="#000" stroke-width="1.0" stroke-linejoin="round" />
<polyline points="452.75,145.05 452.84,65.21 452.97,66.29 453.11,74.99 453.24,72 453.38,80.82 453.51,79.2 453.65,89.43 453.78,77.22 453.92,88.36 454.05,88.06 454.18,90.09 454.32,86.77 454.45,97.31 454.59,88.28 454.72,92.95 454.86,90.93 455.04,95.66 455.12,66.81 455.26,70.4 455.39,79.29 455.53,75.24 455.66,93.68 455.8,84.52 455.93,95.9 456.07,86.92 456.2,91.96 456.33,88.65 456.47,99.19 456.6,89.47 456.74,95.81 456.87,91.62 457.01,95.39 457.14,92.61 457.32,94.74 457.41,73.44 457.54,68.11 457.68,77.01 457.81,76.24 457.95,84.97 458.08,76.22 458.22,93.31 458.35,87.7 458.49,89.69 458.62,87.67 458.75,91.27 458.89,83.16 459.02,95.4 459.16,86.47 459.29,93.42 459.43,93.01 459.61,95.07 459.7,70.72 459.83,72.56 459.96,83.4 460.1,77.53 460.23,84.52 460.37,83.04 460.5,89.91 460.64,80.48 460.77,92.4 460.91,88.35 461.04,98.59 461.17,91.06 461.31,95.18 461.44,84.18 461.58,100.1 461.71,92.22 461.89,97.36 461.98,71.94 462.11,71.36 462.25,86.25 462.38,80.72 462.52,84.6 462.65,86.37 462.79,90.35 462.92,88.31 463.06,92.13 463.19,91.59 463.32,100.5 463.46,88.82 463.59,95.92 463.73,92.04 463.86,98.36 464,92.73 464.18,96.71 464.27,62.52 464.4,60.72 464.53,71.47 464.67,71.77 464.8,88.86 464.94,80.99 465.07,86.12 465.21,85.36 465.34,91.49 465.48,86.59 465.61,94.11 465.74,89.02 465.88,94.24 466.01,91.81 466.15,97.03 466.28,83.99 466.46,94.66 466.55,70.86 466.69,72.21 466.82,77.76 466.95,79.05 467.09,87.81 467.22,75.98 467.36,87.95 467.49,80.47 467.63,89.91 467.76,87.13 467.9,92.49 468.03,91.26 468.16,97.28 468.3,88.91 468.43,94.13 468.57,88.7 468.75,91.46 468.84,66.03 468.97,69.33 469.1,80.52 469.24,72.38 469.37,85.75 469.51,78.82 469.64,86.72 469.78,82.83 469.91,95.44 470.05,84.05 470.18,88.19 470.31,86.55 470.45,89.89 470.58,83.46 470.72,92.65 470.85,84.66 471.03,94.14 471.12,72.75 471.26,71.99 471.39,80.1 471.52,79.04 471.66,83.99 471.79,83.12 471.93,91.99 472.06,84.55 472.2,92.02 472.33,86.7 472.47,92.38 472.6,84.15 472.73,96.26 472.87,88.97 473,93.04 473.14,90.14 473.32,94.93 473.41,82.3 473.54,77.29 473.68,87.64 473.81,78.87 473.94,89.54 474.08,88.13 474.21,89.95 474.35,88.29 474.48,93.03 474.62,91.45 474.75,96.58 474.89,91.32 475.02,97.01 475.15,91.98 475.29,102.72 475.42,86.35 475.6,95.55 475.69,72.39 475.83,68.53 475.96,89.55 476.09,79.55 476.23,86 476.36,80.7 476.5,93.16 476.63,85.57 476.77,95.44 476.9,85.7 477.04,93.78 477.17,90.48 477.3,94.28 477.44,89.57 477.57,95.2 477.71,94.19 477.89,95.04 477.98,75.93 478.11,70.55 478.25,90.56 478.38,77.82 478.51,86.67 478.65,83.16 478.78,92.1 478.92,87.85 479.05,97.24 479.19,81.59 479.32,94.73 479.46,84.4 479.59,98.01 479.72,88.32 479.86,97.83 479.99,86.94 480.17,97.32 480.26,76.63 480.4,78.85 480.53,92.29 480.67,82.45 480.8,88.66 480.93,86.65 481.07,92.39 481.2,83.14 481.34,99.37 481.47,82.84 481.61,95.38 481.74,92.59 481.88,97.78 482.01,93.99 482.14,101.26 482.28,92.35 482.46,96.24 482.55,71.63 482.68,74.53 482.82,84.29 482.95,82.44 483.09,87.2 483.22,86.39 483.35,93.73 483.49,80.2 483.62,99.98 483.76,87.51 483.89,98.71 484.03,85.73 484.16,94 484.29,83.7 484.43,95.34 484.56,92.31 484.74,99.04 484.83,73.48 484.97,74.06 485.1,82.34 485.24,80.22 485.37,90.95 485.5,85.45 485.64,91.42 485.77,91.01 485.91,95.99 486.04,93.66 486.18,100.55 486.31,86.62 486.45,97.64 486.58,93.59 486.71,97.48 486.85,89.56 487.03,97.27 487.12,79.67 487.25,75.63 487.39,87.8 487.52,84.83 487.66,91.2 487.79,88.44 487.92,92.4 488.06,88.08 488.19,96.8 488.33,93.36 488.46,97.98 488.6,93.8 488.73,102.95 488.87,89.14 489,102.32 489.13,90.5 489.31,95.73 489.4,75.12 489.54,75.2 489.67,85.09 489.81,77.63 489.94,88.03 490.08,86.49 490.21,90.31 490.34,88.35 490.48,97.27 490.61,90.88 490.75,97.18 490.88,82.41 491.02,95.59 491.15,93.12 491.28,96.41 491.42,85.72 491.6,97.46 491.69,77.67 491.82,74.41 491.96,85.24 492.09,83.26 492.23,99.33 492.36,82.88 492.49,91.01 492.63,87.83 492.76,94.2 492.9,91.27 493.03,96.85 493.17,93.06 493.3,101.97 493.44,89.26 493.57,102.32 493.7,92.61 493.88,96.72 493.97,70.54 494.11,73.81 494.24,78.73 494.38,74.45 494.51,88.52 494.65,83.11 494.78,91.94 494.91,85.23 495.05,93.98 495.18,80.98 495.32,94.02 495.45,92.47 495.59,100.43 495.72,86.84 495.86,96.04 495.99,91.53 496.17,97.8 496.26,77.67 496.39,75.63 496.53,84.25 496.66,81.87 496.8,91.76 496.93,85.15 497.07,95.5 497.2,83.32 497.33,99.69 497.47,91.73 497.6,100.82 497.74,90.94 497.87,96.87 498.01,94.4 498.14,101.96 498.27,95.18 498.45,98.01 498.54,77.7 498.68,71.39 498.81,84.39 498.95,76.05 499.08,90.94 499.22,79.99 499.35,95.99 499.48,86.95 499.62,94.01 499.75,91.47 499.89,105.89 500.02,92.37 500.16,99.89 500.29,89.37 500.43,96.7 500.56,96.09 500.74,101.01 500.83,77.61 500.96,75.81 501.1,90.28 501.23,86.44 501.37,95.7 501.5,86.47 501.64,100.94 501.77,94.14 501.9,101.2 502.04,90.72 502.17,99.89 502.31,95.29 502.44,102.34 502.58,98.02 502.71,102.09 502.85,92.32 503.02,101.23 503.11,80.54 503.25,79.12 503.38,89.29 503.52,85.07 503.65,97.43 503.79,86.35 503.92,106.52 504.06,88.76 504.19,97.39 504.32,97.03 504.46,101.13 504.59,97.74 504.73,99.52 504.86,96.42 505,108.2 505.13,94.3 505.31,101.65 505.4,81.12 505.53,79.72 505.67,88.9 505.8,87.92 505.94,95.9 506.07,89.59 506.21,95.54 506.34,92.08 506.47,98.77 506.61,94.64 506.74,99.43 506.88,91.95 507.01,107.38 507.15,93.46 507.28,103.39 507.42,95.18 507.59,98.76 507.68,80.71 507.82,77.72 507.95,87.46 508.09,86.6 508.22,95.66 508.36,85.89 508.49,94.04 508.63,91.14 508.76,102.03 508.89,82.27 509.03,100.37 509.16,95.94 509.3,102.15 509.43,90.66 509.57,99.36 509.7,95.73 509.88,102.61 509.97,77.2 510.1,81.4 510.24,87.26 510.37,83.4 510.51,97.44 510.64,86.18 510.78,98.77 510.91,90.72 511.05,97.39 511.18,97.83 511.31,107.77 511.45,94.67 511.58,103.52 511.72,100.07 511.85,101.14 511.99,95.49 512.17,98.45 512.26,79.21 512.39,79.63 512.52,88.77 512.66,84 512.79,90.5 512.93,90.57 513.06,94.59 513.2,92.1 513.33,95.01 513.46,92.42 513.6,96.84 513.73,93.21 513.87,101.51 514,95.69 514.14,101.98 514.27,93.78 514.45,102.41 514.54,88.1 514.67,85.65 514.81,90.74 514.94,90.94 515.08,94.48 515.21,94.48 515.35,100.56 515.48,92.94 515.62,99.56 515.75,95.74 515.88,109.43 516.02,98.07 516.15,101.47 516.29,100.23 516.42,102.23 516.56,100.29 516.74,101.3 516.83,91.49 516.96,83.9 517.09,89.55 517.23,88.99 517.36,96.74 517.5,93.6 517.63,98.02 517.77,96.31 517.9,102.04 518.04,94.45 518.17,102.12 518.3,91.62 518.44,101.35 518.57,97.63 518.71,109.44 518.84,94.16 519.02,103.84 519.11,86.35 519.25,87.02 519.38,95.53 519.51,92.25 519.65,101.36 519.78,93.97 519.92,103.06 520.05,94.93 520.19,105.66 520.32,100.51 520.45,102.19 520.59,97.88 520.72,105.64 520.86,99.71 520.99,103.98 521.13,102.52 520.52,91.01" fill="none" stroke="#000" stroke-width="0.65" stroke-linejoin="round" />
<polyline points="520.52,91.01 521.19,109.24 521.87,106.78 522.54,105.69 523.21,108.86 523.88,123.23 524.55,116.45 525.23,124.88 525.9,116.79 526.57,122.56 527.24,124.39 527.92,126.48 528.59,125.2 529.26,128.34 529.93,122.12 530.6,120.73 531.28,139.9 531.95,124.21 532.62,129.97 533.29,125.29 533.96,134.49 534.64,127.78 535.31,134.03 535.98,123.98 536.65,130.78 537.33,130.9 538,127.93 538.67,132.17 539.34,137.22 540.01,124.19 540.69,130.39 541.36,131.93 542.03,125.59 542.7,126.99 543.37,138.64 544.05,132.22 544.72,121.77 545.39,127.46 546.06,137.57 546.73,135.08 547.41,131.56 548.08,132.09 548.75,137.64 549.42,127.58 550.1,137.38 550.77,134.24 551.44,124.22 552.11,136.51 552.78,130.15 553.46,128.13 554.13,128.78 554.8,134.72 555.47,130.43 556.14,135.44 556.82,121.25 557.49,132.09 558.16,138.15 558.83,129.07 559.51,128.08 560.18,130.75 560.85,123.79 561.52,128.91 562.19,137.11 562.87,130.85 563.54,137.55 564.21,127.65 564.88,131.45 565.55,119.01 566.23,137.03 566.9,141.93 567.57,130.41 568.24,129.73 568.91,138 569.59,133.2 570.26,131.65 570.93,129.35 571.6,133.33 572.28,135.72 572.95,126.13 573.62,136.13 574.29,133.09 574.96,137.41 575.64,132.68 576.31,127.08 576.98,141.09 577.65,128.79 578.32,128.35 579,135.32 579.67,130.02 580.34,137.87 581.01,123.31 581.69,129.57 582.36,133.28 583.03,140.98 583.7,133.29 584.37,125.14 585.05,125.98 585.72,134.38 586.39,126.78 587.06,137.74 587.73,131.74 588.41,131.75 589.08,130.15 589.75,140.43 590.42,124.39 591.09,127.9 591.77,140.59 592.44,136.26 593.11,127.64 593.78,136.16 594.46,142.23 595.13,123.29 595.8,133.3 596.47,134.93 597.14,121.16 597.82,136.23 598.49,136.26 599.16,130.25 599.83,137.58 600.5,133.79 601.18,128.9 601.85,135.9 602.52,133.39 603.19,123.45 603.86,131.92 604.54,130.46 605.21,131.66 605.88,131.3 606.55,126.55 607.23,135.74 607.9,123.57 608.57,141.09 609.24,131.7 609.91,138.6 610.59,131.23 611.26,129.34 611.93,126.73 612.6,138.9 613.27,131.14 613.95,134.34 614.62,135.38 615.29,136.74 615.96,129.78 616.64,141.08 617.31,128.39 617.98,132.8 618.65,135.88 619.32,136.11 620,137.15 620.67,120.74 621.34,143.19 622.01,122.36 622.68,133.22 623.36,135.78 624.03,137.52 624.7,125.26 625.37,126.73 626.04,140.99 626.72,132.21 627.39,127.11 628.06,133.47 628.73,123.95 629.41,139.88 630.08,129 630.75,140.01 631.42,120.1 632.09,140.89 632.77,141.88 633.44,128.71 634.11,133.28 634.78,123.41 635.45,138.66 636.13,132.24 636.8,130.05 637.47,126.6 638.14,136.66 638.82,127.82 639.49,132.71 640.16,135.5 640.83,131.96 641.5,133 642.18,137.44 642.85,125.19 643.52,142.26 644.19,124.4 644.86,130.96 645.54,135.53 646.21,136.5 646.88,132.47 647.55,130.29 648.22,130.51 648.9,133.29 649.57,128.93 650.24,137.89 650.91,130.75 651.59,141.11 652.26,126.05 652.93,134.01 653.6,135.43 654.27,126.65" fill="none" stroke="#000" stroke-width="1.0" stroke-linejoin="round" />
<polyline points="452.47,136.26 452.75,145.05 452.84,73.09 452.97,73.61 453.11,88.39 453.24,91.28 453.38,99.02" fill="none" stroke="#0c840c" stroke-width="0.9" stroke-linejoin="round" />
<polyline points="519.29,89.91 519.74,93.46 520.19,96.69 520.65,99.63 521.1,102.31 521.55,104.76 522,106.98 522.45,109.01 522.9,110.86 523.36,112.54 523.81,114.07 524.26,115.47 524.71,116.75 525.16,117.91 525.62,118.97 526.07,119.93 526.52,120.81 526.97,121.62 527.42,122.35 527.87,123.02 528.33,123.63 528.78,124.18 529.23,124.69 529.68,125.16 530.13,125.58 530.59,125.97 531.04,126.32 531.49,126.65 531.94,126.94 532.39,127.21 532.84,127.46 533.3,127.69 533.75,127.9 534.2,128.09 534.65,128.26 535.1,128.42 535.56,128.57 536.01,128.71 536.46,128.83 536.91,128.95 537.36,129.05 537.81,129.15 538.27,129.24 538.72,129.32 539.17,129.4 539.62,129.47 540.07,129.54 540.53,129.6 540.98,129.66 541.43,129.71 541.88,129.76 542.33,129.81 542.78,129.85 543.24,129.89 543.69,129.93 544.14,129.96 544.59,130 545.04,130.03 545.5,130.06 545.95,130.09 546.4,130.12 546.85,130.14 547.3,130.17 547.75,130.19 548.21,130.22 548.66,130.24 549.11,130.26 549.56,130.28 550.01,130.3 550.47,130.32 550.92,130.34 551.37,130.35 551.82,130.37 552.27,130.39 552.73,130.4 553.18,130.42 553.63,130.44 554.08,130.45 554.53,130.47 554.98,130.48 555.44,130.5 555.89,130.51 556.34,130.52 556.79,130.54 557.24,130.55 557.7,130.57 558.15,130.58 558.6,130.59 559.05,130.6 559.5,130.62 559.95,130.63 560.41,130.64 560.86,130.66 561.31,130.67 561.76,130.68 562.21,130.69 562.67,130.7 563.12,130.72 563.57,130.73 564.02,130.74 564.47,130.75 564.92,130.76 565.38,130.77 565.83,130.79 566.28,130.8 566.73,130.81 567.18,130.82 567.64,130.83 568.09,130.84 568.54,130.85 568.99,130.86 569.44,130.87 569.89,130.89 570.35,130.9 570.8,130.91 571.25,130.92 571.7,130.93 572.15,130.94 572.61,130.95 573.06,130.96 573.51,130.97 573.96,130.98 574.41,130.99 574.86,131 575.32,131.01 575.77,131.02 576.22,131.03 576.67,131.04 577.12,131.05 577.58,131.06 578.03,131.07 578.48,131.08 578.93,131.09 579.38,131.1 579.83,131.11 580.29,131.12 580.74,131.13 581.19,131.14 581.64,131.15 582.09,131.16 582.55,131.17 583,131.18 583.45,131.19 583.9,131.2 584.35,131.21 584.8,131.22 585.26,131.22 585.71,131.23 586.16,131.24 586.61,131.25 587.06,131.26 587.52,131.27 587.97,131.28 588.42,131.29 588.87,131.3 589.32,131.31 589.77,131.31 590.23,131.32 590.68,131.33 591.13,131.34 591.58,131.35 592.03,131.36 592.49,131.37 592.94,131.38 593.39,131.38 593.84,131.39 594.29,131.4 594.74,131.41 595.2,131.42 595.65,131.43 596.1,131.43 596.55,131.44 597,131.45 597.46,131.46 597.91,131.47 598.36,131.47 598.81,131.48 599.26,131.49 599.71,131.5 600.17,131.51 600.62,131.51 601.07,131.52 601.52,131.53 601.97,131.54 602.43,131.55 602.88,131.55 603.33,131.56 603.78,131.57 604.23,131.58 604.69,131.58 605.14,131.59 605.59,131.6 606.04,131.61 606.49,131.61 606.94,131.62 607.4,131.63 607.85,131.64 608.3,131.64 608.75,131.65 609.2,131.66 609.66,131.67 610.11,131.67 610.56,131.68 611.01,131.69 611.46,131.69 611.91,131.7 612.37,131.71 612.82,131.72 613.27,131.72 613.72,131.73 614.17,131.74 614.63,131.74 615.08,131.75 615.53,131.76 615.98,131.76 616.43,131.77 616.88,131.78 617.34,131.78 617.79,131.79 618.24,131.8 618.69,131.8 619.14,131.81 619.6,131.82 620.05,131.82 620.5,131.83 620.95,131.84 621.4,131.84 621.85,131.85 622.31,131.86 622.76,131.86 623.21,131.87 623.66,131.88 624.11,131.88 624.57,131.89 625.02,131.89 625.47,131.9 625.92,131.91 626.37,131.91 626.82,131.92 627.28,131.92 627.73,131.93 628.18,131.94 628.63,131.94 629.08,131.95 629.54,131.95 629.99,131.96 630.44,131.97 630.89,131.97 631.34,131.98 631.79,131.98 632.25,131.99 632.7,132 633.15,132 633.6,132.01 634.05,132.01 634.51,132.02 634.96,132.02 635.41,132.03 635.86,132.04 636.31,132.04 636.76,132.05 637.22,132.05 637.67,132.06 638.12,132.06 638.57,132.07 639.02,132.07 639.48,132.08 639.93,132.08 640.38,132.09 640.83,132.09 641.28,132.1 641.73,132.11 642.19,132.11 642.64,132.12 643.09,132.12 643.54,132.13 643.99,132.13 644.45,132.14 644.9,132.14 645.35,132.15 645.8,132.15 646.25,132.16 646.7,132.16 647.16,132.17 647.61,132.17 648.06,132.18 648.51,132.18 648.96,132.19 649.42,132.19 649.87,132.2 650.32,132.2 650.77,132.21 651.22,132.21 651.68,132.22 652.13,132.22 652.58,132.22 653.03,132.23 653.48,132.23 653.93,132.24 654.39,132.24" fill="none" stroke="#ff8000" stroke-width="2.25" stroke-linejoin="round" />
<polyline points="519.51,100.12 519.96,107.23 520.42,112.61 520.87,116.69 521.32,119.79 521.77,122.14 522.22,123.92 522.67,125.28 523.12,126.31 523.57,127.09 524.02,127.69 524.48,128.15 524.93,128.5 525.38,128.77 525.83,128.98 526.28,129.14 526.73,129.27 527.18,129.37 527.63,129.44 528.08,129.51 528.54,129.56 528.99,129.6 529.44,129.64 529.89,129.67 530.34,129.7 530.79,129.73 531.24,129.75 531.69,129.77 532.14,129.79 532.6,129.81 533.05,129.82 533.5,129.84 533.95,129.86 534.4,129.87 534.85,129.89 535.3,129.91 535.75,129.92 536.2,129.94 536.65,129.95 537.11,129.97 537.56,129.98 538.01,130 538.46,130.01 538.91,130.03 539.36,130.04 539.81,130.06 540.26,130.07 540.71,130.08 541.17,130.1 541.62,130.11 542.07,130.13 542.52,130.14 542.97,130.15 543.42,130.17 543.87,130.18 544.32,130.2 544.77,130.21 545.23,130.22 545.68,130.24 546.13,130.25 546.58,130.26 547.03,130.28 547.48,130.29 547.93,130.3 548.38,130.32 548.83,130.33 549.29,130.34 549.74,130.36 550.19,130.37 550.64,130.38 551.09,130.4 551.54,130.41 551.99,130.42 552.44,130.43 552.89,130.45 553.34,130.46 553.8,130.47 554.25,130.49 554.7,130.5 555.15,130.51 555.6,130.52 556.05,130.53 556.5,130.55 556.95,130.56 557.4,130.57 557.86,130.58 558.31,130.6 558.76,130.61 559.21,130.62 559.66,130.63 560.11,130.64 560.56,130.65 561.01,130.67 561.46,130.68 561.92,130.69 562.37,130.7 562.82,130.71 563.27,130.72 563.72,130.74 564.17,130.75 564.62,130.76 565.07,130.77 565.52,130.78 565.97,130.79 566.43,130.8 566.88,130.81 567.33,130.83 567.78,130.84 568.23,130.85 568.68,130.86 569.13,130.87 569.58,130.88 570.03,130.89 570.49,130.9 570.94,130.91 571.39,130.92 571.84,130.93 572.29,130.94 572.74,130.95 573.19,130.96 573.64,130.97 574.09,130.98 574.55,130.99 575,131 575.45,131.01 575.9,131.02 576.35,131.04 576.8,131.05 577.25,131.05 577.7,131.06 578.15,131.07 578.61,131.08 579.06,131.09 579.51,131.1 579.96,131.11 580.41,131.12 580.86,131.13 581.31,131.14 581.76,131.15 582.21,131.16 582.66,131.17 583.12,131.18 583.57,131.19 584.02,131.2 584.47,131.21 584.92,131.22 585.37,131.23 585.82,131.24 586.27,131.25 586.72,131.25 587.18,131.26 587.63,131.27 588.08,131.28 588.53,131.29 588.98,131.3 589.43,131.31 589.88,131.32 590.33,131.33 590.78,131.33 591.24,131.34 591.69,131.35 592.14,131.36 592.59,131.37 593.04,131.38 593.49,131.39 593.94,131.39 594.39,131.4 594.84,131.41 595.29,131.42 595.75,131.43 596.2,131.44 596.65,131.44 597.1,131.45 597.55,131.46 598,131.47 598.45,131.48 598.9,131.48 599.35,131.49 599.81,131.5 600.26,131.51 600.71,131.52 601.16,131.52 601.61,131.53 602.06,131.54 602.51,131.55 602.96,131.56 603.41,131.56 603.87,131.57 604.32,131.58 604.77,131.59 605.22,131.59 605.67,131.6 606.12,131.61 606.57,131.62 607.02,131.62 607.47,131.63 607.93,131.64 608.38,131.65 608.83,131.65 609.28,131.66 609.73,131.67 610.18,131.67 610.63,131.68 611.08,131.69 611.53,131.7 611.98,131.7 612.44,131.71 612.89,131.72 613.34,131.72 613.79,131.73 614.24,131.74 614.69,131.74 615.14,131.75 615.59,131.76 616.04,131.77 616.5,131.77 616.95,131.78 617.4,131.79 617.85,131.79 618.3,131.8 618.75,131.81 619.2,131.81 619.65,131.82 620.1,131.82 620.56,131.83 621.01,131.84 621.46,131.84 621.91,131.85 622.36,131.86 622.81,131.86 623.26,131.87 623.71,131.88 624.16,131.88 624.61,131.89 625.07,131.89 625.52,131.9 625.97,131.91 626.42,131.91 626.87,131.92 627.32,131.93 627.77,131.93 628.22,131.94 628.67,131.94 629.13,131.95 629.58,131.96 630.03,131.96 630.48,131.97 630.93,131.97 631.38,131.98 631.83,131.98 632.28,131.99 632.73,132 633.19,132 633.64,132.01 634.09,132.01 634.54,132.02 634.99,132.02 635.44,132.03 635.89,132.04 636.34,132.04 636.79,132.05 637.25,132.05 637.7,132.06 638.15,132.06 638.6,132.07 639.05,132.07 639.5,132.08 639.95,132.08 640.4,132.09 640.85,132.1 641.3,132.1 641.76,132.11 642.21,132.11 642.66,132.12 643.11,132.12 643.56,132.13 644.01,132.13 644.46,132.14 644.91,132.14 645.36,132.15 645.82,132.15 646.27,132.16 646.72,132.16 647.17,132.17 647.62,132.17 648.07,132.18 648.52,132.18 648.97,132.19 649.42,132.19 649.88,132.2 650.33,132.2 650.78,132.21 651.23,132.21 651.68,132.22 652.13,132.22 652.58,132.22 653.03,132.23 653.48,132.23 653.93,132.24 654.39,132.24" fill="none" stroke="#ff8000" stroke-width="2.25" stroke-linejoin="round" />
<line x1="413.9" y1="145.05" x2="675.5" y2="145.05" stroke="#6a6a6a" stroke-width="0.9" stroke-dasharray="1 1.55"/>
<rect x="420" y="142.2" width="2.6" height="2.6" fill="#000"/>
<line x1="413.9" y1="13.55" x2="413.9" y2="188.3" stroke="#1a1a1a" stroke-width="1.4" />
<line x1="413.9" y1="14.25" x2="417.9" y2="14.25" stroke="#1a1a1a" stroke-width="1.4" />
<text x="407.9" y="18.45" font-size="13.6" text-anchor="end" font-weight="normal" fill="#000" >0.15</text>
<line x1="413.9" y1="57.85" x2="417.9" y2="57.85" stroke="#1a1a1a" stroke-width="1.4" />
<text x="407.1" y="62.05" font-size="13.6" text-anchor="end" font-weight="normal" fill="#000" >0.1</text>
<line x1="413.9" y1="101.45" x2="417.9" y2="101.45" stroke="#1a1a1a" stroke-width="1.4" />
<text x="407.9" y="105.65" font-size="13.6" text-anchor="end" font-weight="normal" fill="#000" >0.05</text>
<line x1="413.9" y1="145.05" x2="417.9" y2="145.05" stroke="#1a1a1a" stroke-width="1.4" />
<text x="407.9" y="149.25" font-size="13.6" text-anchor="end" font-weight="normal" fill="#000" >0</text>
<line x1="413.9" y1="188.65" x2="417.9" y2="188.65" stroke="#1a1a1a" stroke-width="1.4" />
<text x="407.9" y="192.85" font-size="13.6" text-anchor="end" font-weight="normal" fill="#000" >−0.05</text>
<line x1="413.2" y1="188.3" x2="677.5" y2="188.3" stroke="#1a1a1a" stroke-width="1.4" />
<line x1="430.35" y1="188.3" x2="430.35" y2="184.7" stroke="#1a1a1a" stroke-width="1.4" />
<text x="430.35" y="201.9" font-size="11" text-anchor="middle" font-weight="normal" fill="#000" >−20</text>
<line x1="452.75" y1="188.3" x2="452.75" y2="184.7" stroke="#1a1a1a" stroke-width="1.4" />
<text x="452.75" y="201.9" font-size="11" text-anchor="middle" font-weight="normal" fill="#000" >0</text>
<line x1="475.15" y1="188.3" x2="475.15" y2="184.7" stroke="#1a1a1a" stroke-width="1.4" />
<text x="475.15" y="201.9" font-size="11" text-anchor="middle" font-weight="normal" fill="#000" >20</text>
<line x1="497.56" y1="188.3" x2="497.56" y2="184.7" stroke="#1a1a1a" stroke-width="1.4" />
<text x="497.56" y="201.9" font-size="11" text-anchor="middle" font-weight="normal" fill="#000" >40</text>
<line x1="519.96" y1="188.3" x2="519.96" y2="184.7" stroke="#1a1a1a" stroke-width="1.4" />
<text x="519.96" y="201.9" font-size="11" text-anchor="middle" font-weight="normal" fill="#000" >60</text>
<line x1="542.37" y1="188.3" x2="542.37" y2="184.7" stroke="#1a1a1a" stroke-width="1.4" />
<text x="542.37" y="201.9" font-size="11" text-anchor="middle" font-weight="normal" fill="#000" >80</text>
<line x1="564.77" y1="188.3" x2="564.77" y2="184.7" stroke="#1a1a1a" stroke-width="1.4" />
<text x="564.77" y="201.9" font-size="11" text-anchor="middle" font-weight="normal" fill="#000" >100</text>
<line x1="587.17" y1="188.3" x2="587.17" y2="184.7" stroke="#1a1a1a" stroke-width="1.4" />
<text x="587.17" y="201.9" font-size="11" text-anchor="middle" font-weight="normal" fill="#000" >120</text>
<line x1="609.58" y1="188.3" x2="609.58" y2="184.7" stroke="#1a1a1a" stroke-width="1.4" />
<text x="609.58" y="201.9" font-size="11" text-anchor="middle" font-weight="normal" fill="#000" >140</text>
<line x1="631.98" y1="188.3" x2="631.98" y2="184.7" stroke="#1a1a1a" stroke-width="1.4" />
<text x="631.98" y="201.9" font-size="11" text-anchor="middle" font-weight="normal" fill="#000" >160</text>
<line x1="654.39" y1="188.3" x2="654.39" y2="184.7" stroke="#1a1a1a" stroke-width="1.4" />
<text x="654.39" y="201.9" font-size="11" text-anchor="middle" font-weight="normal" fill="#000" >180</text>
<line x1="676.79" y1="188.3" x2="676.79" y2="184.7" stroke="#1a1a1a" stroke-width="1.4" />
<text x="676.79" y="201.9" font-size="11" text-anchor="middle" font-weight="normal" fill="#000" >200</text>
<line x1="452.6" y1="57.6" x2="519.9" y2="57.6" stroke="#111" stroke-width="1.3" />
<text x="437.3" y="51.7" font-size="11.85" text-anchor="start" font-weight="normal" fill="#000" >0.49 Hz, 30 pulses</text>
<text transform="translate(364.9,101) rotate(-90)" font-size="13.7" text-anchor="middle">Binding fraction change</text>
<text x="545.4" y="220.5" font-size="13.8" text-anchor="middle" font-weight="normal" fill="#000" >Time (s)</text>
<line x1="593.9" y1="25.5" x2="626.8" y2="25.5" stroke="#000" stroke-width="1.8" />
<line x1="593.9" y1="43.1" x2="626.8" y2="43.1" stroke="#0c840c" stroke-width="1.8" />
<text x="632.6" y="28.6" font-size="10" text-anchor="start" font-weight="normal" fill="#000" >WT</text>
<text x="632.6" y="46.2" font-size="10" text-anchor="start" font-weight="normal" fill="#0c840c" >T286A</text>
<text x="353.6" y="14.3" font-size="19" text-anchor="start" font-weight="bold" fill="#000" >b</text>
<polygon points="59.17,382.28 61.42,378.3 63.67,384.54 65.92,386.33 68.17,387.8 70.42,380.96 72.67,384.13 74.15,366.45 76.1,379.55 78.06,374.68 80.01,365.8 82.95,379.64 84.91,375.08 87.36,359.05 89.8,376.33 91.76,383.41 94.2,373.5 96.65,376.61 99.09,374.1 101.54,374.27 104.97,368.61 106.92,371.65 109.37,367.15 111.81,373.35 114.27,382.28 116.22,367.38 118.14,370.82 120.25,312.44 122.34,307.2 123.38,305.87 125.48,313.64 127.58,325.09 129.68,322.74 131.77,333.23 133.87,340.32 135.96,333.95 137.01,340.48 139.11,334.47 141.2,327.84 142.25,334.31 143.31,336.08 144.35,311.48 146.44,309.54 148.54,313.28 150.64,315.49 152.74,322.1 154.83,322.88 156.93,322.39 157.98,328.21 160.07,323.44 162.17,329.79 164.26,332.89 166.37,333.43 168.46,312.16 170.56,308.11 172.65,311.41 174.75,316.35 176.84,327.45 178,326.95 180.09,321.85 182.2,322.14 183.24,314.85 184.29,325.57 186.39,327.11 187.44,322.48 189.53,329.22 191,328.07 192.26,305.57 194.35,307.85 195.82,311.53 197.29,320.8 198.96,316.59 200.64,309.36 202.11,316.59 204.21,325.88 206.3,328.67 208.39,326.36 210.5,324.88 212.59,329.04 214.69,336.14 216.78,303.41 218.88,303.78 220.97,311.13 223.08,313.08 225.17,320.71 227.27,322.71 229.36,324.54 231.46,325.75 233.56,323.16 235.66,326.97 237.75,328.79 239.21,334.81 241,313.62 243.1,306.82 244.15,309.85 246.24,317.4 247.29,323.9 249.39,319.52 251.06,324.75 252.53,318.71 254.62,326.26 256.73,329.34 258.82,325.23 260.92,329.26 262.38,325.96 264.06,316.16 265.74,316.47 267.21,323.82 269.3,314.73 271.4,316.4 273.49,322.66 275.59,325.52 277.68,321.1 279.79,317.57 281.25,323.61 282.92,331.64 285.03,333.51 286.7,330.72 288.16,322.39 290.27,312.87 292.37,307.83 294.46,314.92 296.55,317.37 298.65,324.12 300.75,329.87 302.85,325.45 304.94,328.26 308.05,325.41 308.05,343.33 304.94,343.8 302.85,338.11 300.75,347.61 298.65,342.92 296.55,333.4 294.46,330.12 292.37,320.89 290.27,330.76 288.16,341.93 286.7,348.57 285.03,346.23 282.92,344.83 281.25,342.83 279.79,331.03 277.68,335.84 275.59,337.86 273.49,341.44 271.4,333.54 269.3,327.86 267.21,337.28 265.74,331.18 264.06,335.26 262.38,343.09 260.92,344.07 258.82,339.11 256.73,346.4 254.62,340.84 252.53,335.8 251.06,337.49 249.39,337.09 247.29,337.89 246.24,335.52 244.15,327.16 243.1,324.2 241,332.26 239.21,348.63 237.75,343.31 235.66,342.52 233.56,341.98 231.46,339.64 229.36,337.92 227.27,337.43 225.17,336.18 223.08,330.59 220.97,326.11 218.88,320.93 216.78,317.55 214.69,349.89 212.59,341.42 210.5,339.3 208.39,341.3 206.3,343.39 204.21,340.06 202.11,328.82 200.64,328.55 198.96,330.88 197.29,338.14 195.82,326.91 194.35,320.5 192.26,319.79 191,345.93 189.53,342.57 187.44,341.6 186.39,344.42 184.29,339.02 183.24,333.76 182.2,336.53 180.09,340.87 178,342.8 176.84,343.8 174.75,332.97 172.65,328.93 170.56,320.39 168.46,326.34 166.37,350.75 164.26,350.02 162.17,346.07 160.07,340.29 157.98,343.71 156.93,336.82 154.83,341.88 152.74,336.49 150.64,334.56 148.54,329.02 146.44,328.05 144.35,325.71 143.31,355.44 142.25,348.24 141.2,345.78 139.11,348.31 137.01,355.76 135.96,352.29 133.87,353.8 131.77,346.03 129.68,341.62 127.58,339.91 125.48,331.25 123.38,318.88 122.34,319.95 120.25,325.34 118.14,387.82 116.22,382.83 114.27,400.79 111.81,391.25 109.37,385.41 106.92,387.04 104.97,387.64 101.54,391.05 99.09,390.8 96.65,395.05 94.2,392.91 91.76,402.29 89.8,389.98 87.36,378.35 84.91,390.03 82.95,396.09 80.01,383.97 78.06,390.25 76.1,398.47 74.15,381.79 72.67,401.01 70.42,395.89 68.17,405.01 65.92,400.98 63.67,402.38 61.42,397.06 59.17,394.62" fill="#c9c9c9" fill-opacity="1.0" stroke="none"/>
<polygon points="59.17,377.9 61.67,376.16 64.16,372.09 66.66,370.48 69.16,367.8 71.65,367.62 74.15,367.62 76.59,379.59 79.04,368.05 80.5,387.1 82.47,369.8 84.42,363.16 86.38,381.5 87.84,368.36 90.29,378.09 92.25,375.48 95.19,380.49 98.12,365.04 100.08,379.18 102.52,385.48 104.47,374.89 105.95,379.41 107.9,377.35 110.84,372.61 113.53,370.58 116.22,369.47 118.14,374.15 119.61,367.66 121.29,308.82 122.96,305.94 124.44,315.42 126.53,325.7 128.62,337.11 130.72,349.75 132.82,342.9 134.92,352.69 137.01,351.41 139.11,359.65 141.2,363.1 142.89,375.02 144.35,325.31 146.44,326.35 147.5,327.39 148.54,317.56 150.22,326.38 152.74,341.8 154.83,346.97 156.93,350.62 159.02,360.06 161.13,357.9 163.22,365.63 165.31,370.91 166.37,367.32 168.46,336.37 170.56,334.28 172.65,335.94 174.75,341.62 176.84,344.53 178,349.23 180.09,357.9 182.2,363.11 184.29,367.46 186.39,369.58 188.48,370.37 189.53,366.08 190.58,374.45 192.67,329.14 194.35,324.21 195.82,336.27 196.87,342.66 198.54,332.47 200.02,342.08 202.11,345.71 204.21,352.77 206.3,357.32 207.35,362.96 209.45,361.67 211.54,358.77 213.64,364.05 215.32,362.94 217.42,328.45 219.51,332.39 221.6,334.4 223.7,344.23 225.8,347.69 227.9,355.35 229.99,358.74 231.46,354.12 233.56,360.38 235.66,370.12 237.75,372.26 239.21,367.82 241,336.19 243.1,334.24 245.19,338.38 246.24,344.23 247.29,351.79 249.39,353.17 251.49,350.63 253.58,356.03 255.67,363.1 257.77,361.87 259.86,368.47 261.97,369.75 263.01,362.35 264.48,333.23 266.58,324.58 267.83,327.65 269.3,336.41 271.4,337.44 273.49,348.02 275.59,357.12 277.68,360.59 279.79,363.76 281.88,362.04 283.98,356.74 285.03,357.16 287.12,351.93 289.22,338.88 291.31,334.67 293.41,340.27 295.09,346.02 296.55,346.73 298.65,349.72 300.75,350.49 302.22,363.38 304.94,361.24 308.05,358.85 308.05,372.93 304.94,378.62 302.22,377.65 300.75,369.01 298.65,366.66 296.55,359.42 295.09,364.54 293.41,359.66 291.31,350.43 289.22,357.13 287.12,364.7 285.03,376.66 283.98,372.65 281.88,375.19 279.79,380.57 277.68,372.92 275.59,374.87 273.49,366.74 271.4,352.15 269.3,349.38 267.83,345.74 266.58,343.22 264.48,349.59 263.01,379.35 261.97,385.87 259.86,383.68 257.77,375.07 255.67,376.07 253.58,374.22 251.49,369.45 249.39,369.42 247.29,370.39 246.24,362.93 245.19,353.97 243.1,353.62 241,354.47 239.21,386.8 237.75,385.1 235.66,385.27 233.56,377.65 231.46,370.91 229.99,376.47 227.9,368.55 225.8,365.31 223.7,360.65 221.6,350.77 219.51,349.34 217.42,344.17 215.32,379.29 213.64,376.99 211.54,375.06 209.45,376.3 207.35,380.03 206.3,371.78 204.21,369.39 202.11,364.6 200.02,358.3 198.54,347.76 196.87,357.66 195.82,349.3 194.35,343.55 192.67,347.48 190.58,389.86 189.53,382.84 188.48,382.83 186.39,382.11 184.29,380.67 182.2,380.73 180.09,374.1 178,366 176.84,361.95 174.75,357.43 172.65,349.81 170.56,351.15 168.46,354.33 166.37,382.45 165.31,387.61 163.22,383.13 161.13,371.47 159.02,379.4 156.93,370 154.83,361.45 152.74,354.75 150.22,345.9 148.54,330.31 147.5,346.89 146.44,343.17 144.35,338.04 142.89,390.82 141.2,380.93 139.11,373.81 137.01,366.63 134.92,368.41 132.82,360.07 130.72,367.9 128.62,351.12 126.53,337.94 124.44,328.08 122.96,321.24 121.29,322.81 119.61,386.61 118.14,390.64 116.22,384.54 113.53,384.94 110.84,390.46 107.9,396.14 105.95,397.81 104.47,388.27 102.52,400.9 100.08,396.95 98.12,384.19 95.19,396.69 92.25,389.14 90.29,392.76 87.84,382.69 86.38,400.42 84.42,381.68 82.47,387.69 80.5,404.01 79.04,381.49 76.59,392.98 74.15,382.09 71.65,384.03 69.16,386.16 66.66,389.87 64.16,391.4 61.67,393.27 59.17,394.1" fill="#c9c9c9" fill-opacity="1.0" stroke="none"/>
<polyline points="59.17,388.45 61.42,387.68 63.67,393.46 65.92,393.66 68.17,396.41 70.42,388.42 72.67,392.57 74.15,374.12 76.1,389.01 78.06,382.46 80.01,374.88 82.95,387.87 84.91,382.55 87.36,368.7 89.8,383.16 91.76,392.85 94.2,383.2 96.65,385.83 99.09,382.45 101.54,382.66 104.97,378.13 106.92,379.35 109.37,376.28 111.81,382.3 114.27,391.53 116.22,375.11 118.14,379.32 120.25,318.89 122.34,313.57 123.38,312.38 125.48,322.44 127.58,332.5 129.68,332.18 131.77,339.63 133.87,347.06 135.96,343.12 137.01,348.12 139.11,341.39 141.2,336.81 142.25,341.27 143.31,345.76 144.35,318.59 146.44,318.8 148.54,321.15 150.64,325.02 152.74,329.3 154.83,332.38 156.93,329.61 157.98,335.96 160.07,331.87 162.17,337.93 164.26,341.45 166.37,342.09 168.46,319.25 170.56,314.25 172.65,320.17 174.75,324.66 176.84,335.62 178,334.87 180.09,331.36 182.2,329.34 183.24,324.31 184.29,332.3 186.39,335.77 187.44,332.04 189.53,335.9 191,337 192.26,312.68 194.35,314.17 195.82,319.22 197.29,329.47 198.96,323.74 200.64,318.96 202.11,322.7 204.21,332.97 206.3,336.03 208.39,333.83 210.5,332.09 212.59,335.23 214.69,343.02 216.78,310.48 218.88,312.35 220.97,318.62 223.08,321.84 225.17,328.44 227.27,330.07 229.36,331.23 231.46,332.7 233.56,332.57 235.66,334.75 237.75,336.05 239.21,341.72 241,322.94 243.1,315.51 244.15,318.5 246.24,326.46 247.29,330.9 249.39,328.31 251.06,331.12 252.53,327.25 254.62,333.55 256.73,337.87 258.82,332.17 260.92,336.67 262.38,334.53 264.06,325.71 265.74,323.82 267.21,330.55 269.3,321.29 271.4,324.97 273.49,332.05 275.59,331.69 277.68,328.47 279.79,324.3 281.25,333.22 282.92,338.23 285.03,339.87 286.7,339.64 288.16,332.16 290.27,321.81 292.37,314.36 294.46,322.52 296.55,325.39 298.65,333.52 300.75,338.74 302.85,331.78 304.94,336.03 308.05,334.37" fill="none" stroke="#000" stroke-width="1.3" stroke-linejoin="round" />
<polyline points="59.17,386 61.67,384.72 64.16,381.74 66.66,380.17 69.16,376.98 71.65,375.83 74.15,374.86 76.59,386.28 79.04,374.77 80.5,395.55 82.47,378.75 84.42,372.42 86.38,390.96 87.84,375.52 90.29,385.42 92.25,382.31 95.19,388.59 98.12,374.61 100.08,388.07 102.52,393.19 104.47,381.58 105.95,388.61 107.9,386.75 110.84,381.53 113.53,377.76 116.22,377 118.14,382.39 119.61,377.13 121.29,315.82 122.96,313.59 124.44,321.75 126.53,331.82 128.62,344.12 130.72,358.82 132.82,351.49 134.92,360.55 137.01,359.02 139.11,366.73 141.2,372.02 142.89,382.92 144.35,331.67 146.44,334.76 147.5,337.14 148.54,323.93 150.22,336.14 152.74,348.28 154.83,354.21 156.93,360.31 159.02,369.73 161.13,364.69 163.22,374.38 165.31,379.26 166.37,374.88 168.46,345.35 170.56,342.71 172.65,342.87 174.75,349.53 176.84,353.24 178,357.61 180.09,366 182.2,371.92 184.29,374.06 186.39,375.84 188.48,376.6 189.53,374.46 190.58,382.15 192.67,338.31 194.35,333.88 195.82,342.78 196.87,350.16 198.54,340.11 200.02,350.19 202.11,355.16 204.21,361.08 206.3,364.55 207.35,371.5 209.45,368.99 211.54,366.92 213.64,370.52 215.32,371.11 217.42,336.31 219.51,340.86 221.6,342.58 223.7,352.44 225.8,356.5 227.9,361.95 229.99,367.6 231.46,362.51 233.56,369.02 235.66,377.7 237.75,378.68 239.21,377.31 241,345.33 243.1,343.93 245.19,346.17 246.24,353.58 247.29,361.09 249.39,361.3 251.49,360.04 253.58,365.13 255.67,369.59 257.77,368.47 259.86,376.07 261.97,377.81 263.01,370.85 264.48,341.41 266.58,333.9 267.83,336.7 269.3,342.9 271.4,344.79 273.49,357.38 275.59,365.99 277.68,366.76 279.79,372.16 281.88,368.62 283.98,364.7 285.03,366.91 287.12,358.31 289.22,348 291.31,342.55 293.41,349.97 295.09,355.28 296.55,353.08 298.65,358.19 300.75,359.75 302.22,370.52 304.94,369.93 308.05,365.89" fill="none" stroke="#0c840c" stroke-width="1.3" stroke-linejoin="round" />
<line x1="60.6" y1="382.65" x2="308" y2="382.65" stroke="#6a6a6a" stroke-width="0.9" stroke-dasharray="1 1.55"/>
<line x1="60.7" y1="259.77" x2="60.7" y2="423.4" stroke="#1a1a1a" stroke-width="1.4" />
<line x1="60.7" y1="260.47" x2="64.7" y2="260.47" stroke="#1a1a1a" stroke-width="1.4" />
<text x="54.7" y="264.67" font-size="13.6" text-anchor="end" font-weight="normal" fill="#000" >0.15</text>
<line x1="60.7" y1="301.2" x2="64.7" y2="301.2" stroke="#1a1a1a" stroke-width="1.4" />
<text x="53.9" y="305.4" font-size="13.6" text-anchor="end" font-weight="normal" fill="#000" >0.1</text>
<line x1="60.7" y1="341.92" x2="64.7" y2="341.92" stroke="#1a1a1a" stroke-width="1.4" />
<text x="54.7" y="346.12" font-size="13.6" text-anchor="end" font-weight="normal" fill="#000" >0.05</text>
<line x1="60.7" y1="382.65" x2="64.7" y2="382.65" stroke="#1a1a1a" stroke-width="1.4" />
<text x="54.7" y="386.85" font-size="13.6" text-anchor="end" font-weight="normal" fill="#000" >0</text>
<line x1="60.7" y1="423.38" x2="64.7" y2="423.38" stroke="#1a1a1a" stroke-width="1.4" />
<text x="54.7" y="427.57" font-size="13.6" text-anchor="end" font-weight="normal" fill="#000" >−0.05</text>
<line x1="60" y1="423.4" x2="307.2" y2="423.4" stroke="#1a1a1a" stroke-width="1.4" />
<line x1="72.3" y1="423.4" x2="72.3" y2="419.8" stroke="#1a1a1a" stroke-width="1.4" />
<text x="72.3" y="439.3" font-size="13.6" text-anchor="middle" font-weight="normal" fill="#000" >−4</text>
<line x1="119.1" y1="423.4" x2="119.1" y2="419.8" stroke="#1a1a1a" stroke-width="1.4" />
<text x="119.1" y="439.3" font-size="13.6" text-anchor="middle" font-weight="normal" fill="#000" >0</text>
<line x1="165.9" y1="423.4" x2="165.9" y2="419.8" stroke="#1a1a1a" stroke-width="1.4" />
<text x="165.9" y="439.3" font-size="13.6" text-anchor="middle" font-weight="normal" fill="#000" >4</text>
<line x1="212.7" y1="423.4" x2="212.7" y2="419.8" stroke="#1a1a1a" stroke-width="1.4" />
<text x="212.7" y="439.3" font-size="13.6" text-anchor="middle" font-weight="normal" fill="#000" >8</text>
<line x1="259.5" y1="423.4" x2="259.5" y2="419.8" stroke="#1a1a1a" stroke-width="1.4" />
<text x="259.5" y="439.3" font-size="13.6" text-anchor="middle" font-weight="normal" fill="#000" >12</text>
<line x1="306.3" y1="423.4" x2="306.3" y2="419.8" stroke="#1a1a1a" stroke-width="1.4" />
<text x="306.3" y="439.3" font-size="13.6" text-anchor="middle" font-weight="normal" fill="#000" >16</text>
<line x1="95.7" y1="423.4" x2="95.7" y2="421.4" stroke="#1a1a1a" stroke-width="1.4" />
<line x1="142.5" y1="423.4" x2="142.5" y2="421.4" stroke="#1a1a1a" stroke-width="1.4" />
<line x1="189.3" y1="423.4" x2="189.3" y2="421.4" stroke="#1a1a1a" stroke-width="1.4" />
<line x1="236.1" y1="423.4" x2="236.1" y2="421.4" stroke="#1a1a1a" stroke-width="1.4" />
<line x1="282.9" y1="423.4" x2="282.9" y2="421.4" stroke="#1a1a1a" stroke-width="1.4" />
<rect x="117.3" y="299.1" width="3.6" height="3.6" fill="#000"/>
<rect x="141.17" y="299.1" width="3.6" height="3.6" fill="#000"/>
<rect x="165.04" y="299.1" width="3.6" height="3.6" fill="#000"/>
<rect x="188.9" y="299.1" width="3.6" height="3.6" fill="#000"/>
<rect x="212.77" y="299.1" width="3.6" height="3.6" fill="#000"/>
<rect x="236.64" y="299.1" width="3.6" height="3.6" fill="#000"/>
<rect x="260.51" y="299.1" width="3.6" height="3.6" fill="#000"/>
<rect x="284.38" y="299.1" width="3.6" height="3.6" fill="#000"/>
<text transform="translate(10.7,340.6) rotate(-90)" font-size="13.7" text-anchor="middle">Binding fraction change</text>
<circle cx="169.9" cy="318.3" r="1.9" fill="#62c40c"/>
<text x="183.7" y="458.9" font-size="13.8" text-anchor="middle" font-weight="normal" fill="#000" >Time (s)</text>
<text x="0.4" y="260.4" font-size="19" text-anchor="start" font-weight="bold" fill="#000" >c</text>
<polygon points="369.99,337.96 372.08,329.86 374.17,330.17 376.26,326.48 379.39,325.6 381.48,328.92 383.57,335.09 385.66,333.53 387.74,336.3 389.83,341.69 391.92,337.15 394.01,333.09 396.1,332.81 398.18,327.82 400.27,323.68 402.36,317.48 403.82,324.56 405.49,330.44 407.58,332.24 409.67,337.04 411.76,333.52 413.85,338.12 416.97,335.94 419.06,339.31 420.1,342.91 421.77,330.58 424.28,328.87 426.37,333.28 429.5,329.73 431.59,335.58 433.67,330.51 435.76,335.08 437.85,333.15 439.94,331.26 442.03,336.72 444.11,333.56 446.2,326.52 448.29,325 450.38,330.09 452.47,327.03 454.56,330.58 456.63,330.61 458.72,335.38 460.81,340.01 462.9,337.92 464.99,340.87 467.07,336.4 469.16,325.38 471.25,326.55 473.34,329.69 475.43,328.53 477.52,330.14 479.6,332.76 481.69,336.14 483.78,339.83 485.87,340.31 487.96,340.4 490.04,344.03 492.13,342.65 492.75,325.32 494.38,318.06 495.9,330.97 497.42,324.96 498.93,327.45 500.45,334.67 501.97,329.15 503.49,330.01 505,333.3 506.52,330.49 508.04,331.28 509.56,332.16 511.08,337.25 512.59,336.29 514.11,329.22 515.63,344.77 517.15,337.02 518.66,337.47 520.18,341.83 521.7,338.85 523.22,340.78 524.74,339.24 526.25,340.5 527.77,346.87 529.29,343.48 530.81,345.75 532.32,347.11 533.84,344.43 535.36,350.13 536.88,342.27 538.39,342.98 539.91,343.2 541.43,346.01 542.95,354.21 544.47,341.7 545.98,354.22 547.5,348.77 549.02,344.35 550.54,356.51 552.05,346.8 553.57,351.75 555.09,353.08 556.61,353.16 558.13,350.03 559.64,354.94 561.16,348.71 562.68,351.34 564.2,360.1 565.71,353.27 567.23,353.77 568.75,357.23 570.27,356.41 571.79,352.06 573.3,354.86 574.82,360.53 576.34,355.07 577.86,352.52 579.37,360.42 580.89,356.15 582.41,350.58 583.93,354.03 585.45,363.86 586.96,359.18 588.48,352.51 590,361.91 591.52,355.32 593.03,357.34 594.55,353.62 596.07,367.4 597.59,361.85 599.1,359.46 600.62,353.15 602.14,358.93 603.66,363.05 605.18,354.92 606.69,357.68 608.21,359.65 609.73,358.94 611.25,357.94 612.76,355.23 614.28,360.87 615.8,357.93 615.8,369.14 614.28,371.58 612.76,367.87 611.25,367.73 609.73,371.76 608.21,373.08 606.69,367.97 605.18,365.45 603.66,375.97 602.14,373.14 600.62,364.49 599.1,369.64 597.59,372.39 596.07,377.74 594.55,368.13 593.03,371.28 591.52,368.95 590,372.75 588.48,366.53 586.96,369.99 585.45,375.34 583.93,366.45 582.41,360.4 580.89,369.98 579.37,372.21 577.86,365.35 576.34,366.01 574.82,371.6 573.3,368.28 571.79,365.14 570.27,367.99 568.75,369.62 567.23,366.4 565.71,365.03 564.2,370.99 562.68,361.69 561.16,360.49 559.64,366.1 558.13,360.82 556.61,367.63 555.09,363.62 553.57,363.09 552.05,358.08 550.54,368.68 549.02,355.52 547.5,360.77 545.98,365.41 544.47,355.27 542.95,364.67 541.43,358.67 539.91,357.79 538.39,354.3 536.88,354.81 535.36,361.45 533.84,357.78 532.32,357.58 530.81,356.33 529.29,354.63 527.77,357.23 526.25,351.08 524.74,352.87 523.22,355.28 521.7,351.29 520.18,352.44 518.66,348.65 517.15,348.15 515.63,357.71 514.11,342.91 512.59,347.24 511.08,351.04 509.56,345.57 508.04,344.05 506.52,343.05 505,347.05 503.49,344.41 501.97,339.83 500.45,344.68 498.93,338.14 497.42,337.02 495.9,343.7 494.38,331.07 492.75,338.76 492.13,354.23 490.04,353.93 487.96,350.9 485.87,350.15 483.78,350.6 481.69,346.39 479.6,342.79 477.52,341.57 475.43,339.89 473.34,339.61 471.25,336.69 469.16,338.74 467.07,349.33 464.99,351.28 462.9,348.1 460.81,353.79 458.72,348.32 456.63,343.93 454.56,340.74 452.47,339.18 450.38,341.47 448.29,338.22 446.2,340.52 444.11,347.61 442.03,349.35 439.94,345.43 437.85,345.71 435.76,348.65 433.67,342.63 431.59,348.19 429.5,342.68 426.37,344.85 424.28,341.45 421.77,340.41 420.1,356.36 419.06,349.28 416.97,346.7 413.85,349.44 411.76,344.83 409.67,348.24 407.58,344.46 405.49,341.25 403.82,337.05 402.36,331.85 400.27,338.06 398.18,340.49 396.1,343.35 394.01,347.44 391.92,347.81 389.83,353.76 387.74,350.81 385.66,344.8 383.57,349.1 381.48,340.67 379.39,335.51 376.26,339.52 374.17,340.24 372.08,342.88 369.99,347.76" fill="#c9c9c9" fill-opacity="1.0" stroke="none"/>
<polygon points="369.99,353.76 372.08,343.39 374.17,338.52 376.26,334.45 378.35,335.3 380.44,345.09 382.52,346.4 384.61,350.33 386.7,352.77 388.79,355.6 390.88,359.89 392.96,363.46 394.64,358.76 396.1,358.61 398.18,343.18 399.23,331.47 401.32,340.25 403.41,339.18 405.49,348 407.58,352.99 409.67,355.92 411.76,356.97 413.85,358.28 415.92,355.71 418.01,360.73 420.1,358.38 421.14,337.1 424.28,339.82 427.41,342.13 430.54,343.81 432.63,357.26 434.72,353.86 436.81,351.71 438.89,361.81 440.98,358.29 443.07,351.87 445.16,340.96 447.25,334.58 449.33,336.92 451.42,342.98 453.51,346.65 455.6,352.71 457.69,353.12 459.78,357.48 461.85,360.47 463.94,360.6 466.03,357.71 468.12,357.6 470.21,340.55 472.29,339.72 474.38,340.89 476.47,345.5 478.56,350.99 480.65,356.66 482.74,355.61 484.82,351.26 486.91,350.28 489,353.45 491.09,361.23 492.75,333.82 494.38,332.46 495.9,338.72 497.42,345.71 498.93,345.07 500.45,346.08 501.97,345.69 503.49,353.01 505,355.58 506.52,350.34 508.04,359.99 509.56,350.84 511.08,351.85 512.59,357.26 514.11,355.32 515.63,356.9 517.15,356.95 518.66,359.21 520.18,362.34 521.7,359.61 523.22,359.3 524.74,357.15 526.25,355.93 527.77,360.66 529.29,363.23 530.81,362.49 532.32,360.96 533.84,356.88 535.36,362.62 536.88,363.04 538.39,363.48 539.91,356.97 541.43,362.34 542.95,361.8 544.47,362.24 545.98,355.99 547.5,364.12 549.02,356.19 550.54,359.69 552.05,363.54 553.57,359.22 555.09,364.3 556.61,366.17 558.13,363.19 559.64,364.42 561.16,360.47 562.68,362.97 564.2,361.75 565.71,360.3 567.23,373.07 568.75,356.96 570.27,370.31 571.79,359.12 573.3,366.07 574.82,360.41 576.34,359.51 577.86,371.07 579.37,358.84 580.89,362.71 582.41,368.07 583.93,358.1 585.45,363.47 586.96,363.72 588.48,364.3 590,352.58 591.52,369.95 593.03,369.63 594.55,364.48 596.07,364.13 597.59,364.16 599.1,362.58 600.62,365.6 602.14,360.12 603.66,366.4 605.18,365.94 606.69,362.87 608.21,362.12 609.73,361.08 611.25,362.69 612.76,364.75 614.28,362.62 615.8,363.37 615.8,374.06 614.28,375.01 612.76,377.61 611.25,375.36 609.73,370.97 608.21,376.67 606.69,377.12 605.18,380.16 603.66,376.96 602.14,371.89 600.62,379.58 599.1,375.37 597.59,375.81 596.07,374.04 594.55,374.8 593.03,379.41 591.52,380.48 590,362.78 588.48,377.3 586.96,378.05 585.45,376.54 583.93,370.42 582.41,382.29 580.89,376.58 579.37,373.1 577.86,382.21 576.34,370.01 574.82,374.41 573.3,378.17 571.79,372.49 570.27,380.28 568.75,369.75 567.23,387.52 565.71,373.76 564.2,372.31 562.68,376.09 561.16,371.13 559.64,378.23 558.13,373.58 556.61,376.24 555.09,376.39 553.57,372.38 552.05,376.87 550.54,374.17 549.02,369.24 547.5,378.65 545.98,369.97 544.47,373.44 542.95,375.74 541.43,374.56 539.91,371.05 538.39,377.16 536.88,373.9 535.36,374.64 533.84,368.62 532.32,372.94 530.81,374.55 529.29,377.06 527.77,375.13 526.25,370.48 524.74,367.27 523.22,372.81 521.7,371.11 520.18,374.51 518.66,372.24 517.15,369.16 515.63,370.62 514.11,367.86 512.59,370.31 511.08,365.81 509.56,363 508.04,373.56 506.52,361.29 505,365.4 503.49,364.75 501.97,357.25 500.45,359.37 498.93,359.52 497.42,359.64 495.9,350.7 494.38,344.71 492.75,348.48 491.09,373.62 489,366.64 486.91,364.92 484.82,363.74 482.74,367.23 480.65,369.65 478.56,361.49 476.47,357.45 474.38,355.44 472.29,350.45 470.21,350.61 468.12,368.01 466.03,371.15 463.94,370.92 461.85,370.33 459.78,368.97 457.69,367.5 455.6,364.61 453.51,358.44 451.42,354.83 449.33,346.82 447.25,347.86 445.16,350.81 443.07,366.14 440.98,369.31 438.89,376.18 436.81,365.96 434.72,365.05 432.63,367.58 430.54,355.61 427.41,354.25 424.28,351.45 421.14,351.31 420.1,370.77 418.01,371.76 415.92,366.69 413.85,372.23 411.76,367.31 409.67,369.29 407.58,362.81 405.49,359.5 403.41,351.71 401.32,352.48 399.23,343.07 398.18,354.77 396.1,372.39 394.64,370.04 392.96,375.21 390.88,370.84 388.79,366.58 386.7,366.97 384.61,363.75 382.52,359.34 380.44,356.7 378.35,346.07 376.26,347.24 374.17,350.53 372.08,358.01 369.99,364.02" fill="#c9c9c9" fill-opacity="1.0" stroke="none"/>
<polyline points="369.99,342.86 372.08,336.37 374.17,335.2 376.26,333 379.39,330.55 381.48,334.79 383.57,342.1 385.66,339.17 387.74,343.56 389.83,347.72 391.92,342.48 394.01,340.26 396.1,338.08 398.18,334.16 400.27,330.87 402.36,324.67 403.82,330.81 405.49,335.85 407.58,338.35 409.67,342.64 411.76,339.18 413.85,343.78 416.97,341.32 419.06,344.3 420.1,349.64 421.77,335.5 424.28,335.16 426.37,339.07 429.5,336.21 431.59,341.89 433.67,336.57 435.76,341.86 437.85,339.43 439.94,338.34 442.03,343.04 444.11,340.58 446.2,333.52 448.29,331.61 450.38,335.78 452.47,333.1 454.56,335.66 456.63,337.27 458.72,341.85 460.81,346.9 462.9,343.01 464.99,346.07 467.07,342.87 469.16,332.06 471.25,331.62 473.34,334.65 475.43,334.21 477.52,335.85 479.6,337.78 481.69,341.26 483.78,345.22 485.87,345.23 487.96,345.65 490.04,348.98 492.13,348.44 492.75,332.04 494.38,324.56 495.9,337.33 497.42,330.99 498.93,332.8 500.45,339.68 501.97,334.49 503.49,337.21 505,340.17 506.52,336.77 508.04,337.67 509.56,338.87 511.08,344.15 512.59,341.77 514.11,336.06 515.63,351.24 517.15,342.59 518.66,343.06 520.18,347.14 521.7,345.07 523.22,348.03 524.74,346.05 526.25,345.79 527.77,352.05 529.29,349.05 530.81,351.04 532.32,352.34 533.84,351.1 535.36,355.79 536.88,348.54 538.39,348.64 539.91,350.5 541.43,352.34 542.95,359.44 544.47,348.48 545.98,359.81 547.5,354.77 549.02,349.93 550.54,362.6 552.05,352.44 553.57,357.42 555.09,358.35 556.61,360.4 558.13,355.42 559.64,360.52 561.16,354.6 562.68,356.52 564.2,365.54 565.71,359.15 567.23,360.09 568.75,363.43 570.27,362.2 571.79,358.6 573.3,361.57 574.82,366.06 576.34,360.54 577.86,358.94 579.37,366.31 580.89,363.06 582.41,355.49 583.93,360.24 585.45,369.6 586.96,364.58 588.48,359.52 590,367.33 591.52,362.13 593.03,364.31 594.55,360.87 596.07,372.57 597.59,367.12 599.1,364.55 600.62,358.82 602.14,366.04 603.66,369.51 605.18,360.18 606.69,362.83 608.21,366.36 609.73,365.35 611.25,362.83 612.76,361.55 614.28,366.22 615.8,363.53" fill="none" stroke="#000" stroke-width="1.3" stroke-linejoin="round" />
<polyline points="369.99,358.89 372.08,350.7 374.17,344.52 376.26,340.85 378.35,340.68 380.44,350.89 382.52,352.87 384.61,357.04 386.7,359.87 388.79,361.09 390.88,365.36 392.96,369.33 394.64,364.4 396.1,365.5 398.18,348.97 399.23,337.27 401.32,346.36 403.41,345.45 405.49,353.75 407.58,357.9 409.67,362.61 411.76,362.14 413.85,365.25 415.92,361.2 418.01,366.24 420.1,364.57 421.14,344.21 424.28,345.63 427.41,348.19 430.54,349.71 432.63,362.42 434.72,359.46 436.81,358.84 438.89,368.99 440.98,363.8 443.07,359 445.16,345.89 447.25,341.22 449.33,341.87 451.42,348.91 453.51,352.55 455.6,358.66 457.69,360.31 459.78,363.22 461.85,365.4 463.94,365.76 466.03,364.43 468.12,362.8 470.21,345.58 472.29,345.09 474.38,348.17 476.47,351.47 478.56,356.24 480.65,363.16 482.74,361.42 484.82,357.5 486.91,357.6 489,360.05 491.09,367.42 492.75,341.15 494.38,338.59 495.9,344.71 497.42,352.67 498.93,352.3 500.45,352.73 501.97,351.47 503.49,358.88 505,360.49 506.52,355.82 508.04,366.77 509.56,356.92 511.08,358.83 512.59,363.79 514.11,361.59 515.63,363.76 517.15,363.06 518.66,365.72 520.18,368.42 521.7,365.36 523.22,366.06 524.74,362.21 526.25,363.21 527.77,367.89 529.29,370.14 530.81,368.52 532.32,366.95 533.84,362.75 535.36,368.63 536.88,368.47 538.39,370.32 539.91,364.01 541.43,368.45 542.95,368.77 544.47,367.84 545.98,362.98 547.5,371.38 549.02,362.71 550.54,366.93 552.05,370.2 553.57,365.8 555.09,370.34 556.61,371.2 558.13,368.38 559.64,371.32 561.16,365.8 562.68,369.53 564.2,367.03 565.71,367.03 567.23,380.29 568.75,363.35 570.27,375.29 571.79,365.81 573.3,372.12 574.82,367.41 576.34,364.76 577.86,376.64 579.37,365.97 580.89,369.65 582.41,375.18 583.93,364.26 585.45,370 586.96,370.88 588.48,370.8 590,357.68 591.52,375.21 593.03,374.52 594.55,369.64 596.07,369.09 597.59,369.98 599.1,368.97 600.62,372.59 602.14,366 603.66,371.68 605.18,373.05 606.69,369.99 608.21,369.4 609.73,366.02 611.25,369.03 612.76,371.18 614.28,368.82 615.8,368.71" fill="none" stroke="#0c840c" stroke-width="1.3" stroke-linejoin="round" />
<polyline points="492.75,331.58 493.79,332.39 494.83,333.17 495.88,333.94 496.92,334.7 497.96,335.44 499.01,336.16 500.05,336.87 501.1,337.56 502.14,338.24 503.18,338.91 504.23,339.56 505.27,340.19 506.32,340.82 507.36,341.43 508.4,342.02 509.45,342.61 510.49,343.18 511.54,343.74 512.58,344.29 513.62,344.83 514.67,345.35 515.71,345.87 516.75,346.37 517.8,346.86 518.84,347.35 519.89,347.82 520.93,348.28 521.97,348.73 523.02,349.18 524.06,349.61 525.11,350.04 526.15,350.45 527.19,350.86 528.24,351.26 529.28,351.65 530.33,352.03 531.37,352.4 532.41,352.77 533.46,353.13 534.5,353.48 535.54,353.82 536.59,354.16 537.63,354.49 538.68,354.81 539.72,355.12 540.76,355.43 541.81,355.74 542.85,356.03 543.9,356.32 544.94,356.6 545.98,356.88 547.03,357.15 548.07,357.42 549.12,357.68 550.16,357.94 551.2,358.18 552.25,358.43 553.29,358.67 554.33,358.9 555.38,359.13 556.42,359.36 557.47,359.58 558.51,359.79 559.55,360 560.6,360.21 561.64,360.41 562.69,360.61 563.73,360.8 564.77,360.99 565.82,361.17 566.86,361.35 567.91,361.53 568.95,361.71 569.99,361.88 571.04,362.04 572.08,362.21 573.12,362.37 574.17,362.52 575.21,362.67 576.26,362.82 577.3,362.97 578.34,363.11 579.39,363.25 580.43,363.39 581.48,363.53 582.52,363.66 583.56,363.79 584.61,363.91 585.65,364.04 586.69,364.16 587.74,364.28 588.78,364.39 589.83,364.51 590.87,364.62 591.91,364.73 592.96,364.83 594,364.94 595.05,365.04 596.09,365.14 597.13,365.24 598.18,365.33 599.22,365.43 600.27,365.52 601.31,365.61 602.35,365.69 603.4,365.78 604.44,365.87 605.48,365.95 606.53,366.03 607.57,366.11 608.62,366.18 609.66,366.26 610.7,366.33 611.75,366.41 612.79,366.48 613.84,366.55 614.88,366.62 615.92,366.68 616.97,366.75" fill="none" stroke="#ff8000" stroke-width="2.25" stroke-linejoin="round" />
<polyline points="492.75,341.03 493.79,343.16 494.83,345.12 495.88,346.91 496.92,348.56 497.96,350.06 499.01,351.45 500.05,352.72 501.1,353.88 502.14,354.95 503.18,355.93 504.23,356.83 505.27,357.66 506.32,358.42 507.36,359.12 508.4,359.76 509.45,360.35 510.49,360.9 511.54,361.4 512.58,361.86 513.62,362.28 514.67,362.67 515.71,363.03 516.75,363.36 517.8,363.67 518.84,363.95 519.89,364.22 520.93,364.46 521.97,364.68 523.02,364.89 524.06,365.08 525.11,365.26 526.15,365.42 527.19,365.58 528.24,365.72 529.28,365.85 530.33,365.97 531.37,366.09 532.41,366.2 533.46,366.3 534.5,366.39 535.54,366.48 536.59,366.56 537.63,366.63 538.68,366.71 539.72,366.77 540.76,366.84 541.81,366.9 542.85,366.95 543.9,367.01 544.94,367.05 545.98,367.1 547.03,367.15 548.07,367.19 549.12,367.23 550.16,367.27 551.2,367.3 552.25,367.34 553.29,367.37 554.33,367.4 555.38,367.43 556.42,367.46 557.47,367.49 558.51,367.51 559.55,367.54 560.6,367.56 561.64,367.59 562.69,367.61 563.73,367.63 564.77,367.65 565.82,367.67 566.86,367.69 567.91,367.71 568.95,367.72 569.99,367.74 571.04,367.76 572.08,367.77 573.12,367.79 574.17,367.8 575.21,367.82 576.26,367.83 577.3,367.85 578.34,367.86 579.39,367.87 580.43,367.88 581.48,367.9 582.52,367.91 583.56,367.92 584.61,367.93 585.65,367.94 586.69,367.95 587.74,367.96 588.78,367.97 589.83,367.98 590.87,367.99 591.91,368 592.96,368.01 594,368.02 595.05,368.03 596.09,368.04 597.13,368.04 598.18,368.05 599.22,368.06 600.27,368.07 601.31,368.08 602.35,368.08 603.4,368.09 604.44,368.1 605.48,368.1 606.53,368.11 607.57,368.12 608.62,368.12 609.66,368.13 610.7,368.13 611.75,368.14 612.79,368.15 613.84,368.15 614.88,368.16 615.92,368.16 616.97,368.17" fill="none" stroke="#ff8000" stroke-width="2.25" stroke-linejoin="round" />
<line x1="370.3" y1="382.65" x2="617" y2="382.65" stroke="#6a6a6a" stroke-width="0.9" stroke-dasharray="1 1.55"/>
<line x1="370.4" y1="259.77" x2="370.4" y2="423.4" stroke="#1a1a1a" stroke-width="1.4" />
<line x1="370.4" y1="260.47" x2="374.4" y2="260.47" stroke="#1a1a1a" stroke-width="1.4" />
<text x="364.4" y="264.67" font-size="13.6" text-anchor="end" font-weight="normal" fill="#000" >0.15</text>
<line x1="370.4" y1="301.2" x2="374.4" y2="301.2" stroke="#1a1a1a" stroke-width="1.4" />
<text x="363.6" y="305.4" font-size="13.6" text-anchor="end" font-weight="normal" fill="#000" >0.1</text>
<line x1="370.4" y1="341.92" x2="374.4" y2="341.92" stroke="#1a1a1a" stroke-width="1.4" />
<text x="364.4" y="346.12" font-size="13.6" text-anchor="end" font-weight="normal" fill="#000" >0.05</text>
<line x1="370.4" y1="382.65" x2="374.4" y2="382.65" stroke="#1a1a1a" stroke-width="1.4" />
<text x="364.4" y="386.85" font-size="13.6" text-anchor="end" font-weight="normal" fill="#000" >0</text>
<line x1="370.4" y1="423.38" x2="374.4" y2="423.38" stroke="#1a1a1a" stroke-width="1.4" />
<text x="364.4" y="427.57" font-size="13.6" text-anchor="end" font-weight="normal" fill="#000" >−0.05</text>
<line x1="369.7" y1="423.4" x2="616.5" y2="423.4" stroke="#1a1a1a" stroke-width="1.4" />
<line x1="382.3" y1="423.4" x2="382.3" y2="419.8" stroke="#1a1a1a" stroke-width="1.4" />
<text x="382.3" y="439.3" font-size="13.6" text-anchor="middle" font-weight="normal" fill="#000" >50</text>
<line x1="429" y1="423.4" x2="429" y2="419.8" stroke="#1a1a1a" stroke-width="1.4" />
<text x="429" y="439.3" font-size="13.6" text-anchor="middle" font-weight="normal" fill="#000" >54</text>
<line x1="475.7" y1="423.4" x2="475.7" y2="419.8" stroke="#1a1a1a" stroke-width="1.4" />
<text x="475.7" y="439.3" font-size="13.6" text-anchor="middle" font-weight="normal" fill="#000" >58</text>
<line x1="522.4" y1="423.4" x2="522.4" y2="419.8" stroke="#1a1a1a" stroke-width="1.4" />
<text x="522.4" y="439.3" font-size="13.6" text-anchor="middle" font-weight="normal" fill="#000" >62</text>
<line x1="569.1" y1="423.4" x2="569.1" y2="419.8" stroke="#1a1a1a" stroke-width="1.4" />
<text x="569.1" y="439.3" font-size="13.6" text-anchor="middle" font-weight="normal" fill="#000" >66</text>
<line x1="615.8" y1="423.4" x2="615.8" y2="419.8" stroke="#1a1a1a" stroke-width="1.4" />
<text x="615.8" y="439.3" font-size="13.6" text-anchor="middle" font-weight="normal" fill="#000" >70</text>
<line x1="405.65" y1="423.4" x2="405.65" y2="421.4" stroke="#1a1a1a" stroke-width="1.4" />
<line x1="452.35" y1="423.4" x2="452.35" y2="421.4" stroke="#1a1a1a" stroke-width="1.4" />
<line x1="499.05" y1="423.4" x2="499.05" y2="421.4" stroke="#1a1a1a" stroke-width="1.4" />
<line x1="545.75" y1="423.4" x2="545.75" y2="421.4" stroke="#1a1a1a" stroke-width="1.4" />
<line x1="592.45" y1="423.4" x2="592.45" y2="421.4" stroke="#1a1a1a" stroke-width="1.4" />
<rect x="370.7" y="299.1" width="3.6" height="3.6" fill="#000"/>
<rect x="394.5" y="299.1" width="3.6" height="3.6" fill="#000"/>
<rect x="418.5" y="299.1" width="3.6" height="3.6" fill="#000"/>
<rect x="442.2" y="299.1" width="3.6" height="3.6" fill="#000"/>
<rect x="466.2" y="299.1" width="3.6" height="3.6" fill="#000"/>
<rect x="490.2" y="299.1" width="3.6" height="3.6" fill="#000"/>
<text x="493.6" y="458.9" font-size="13.8" text-anchor="middle" font-weight="normal" fill="#000" >Time (s)</text>
<line x1="549.9" y1="293.2" x2="580.8" y2="293.2" stroke="#000" stroke-width="1.8" />
<line x1="549.9" y1="309.8" x2="580.8" y2="309.8" stroke="#0c840c" stroke-width="1.8" />
<text x="586.5" y="297.1" font-size="10" text-anchor="start" font-weight="normal" fill="#000" >WT</text>
<text x="586.5" y="313.7" font-size="10" text-anchor="start" font-weight="normal" fill="#0c840c" >T286A</text>
</svg>
</div></body></html>
